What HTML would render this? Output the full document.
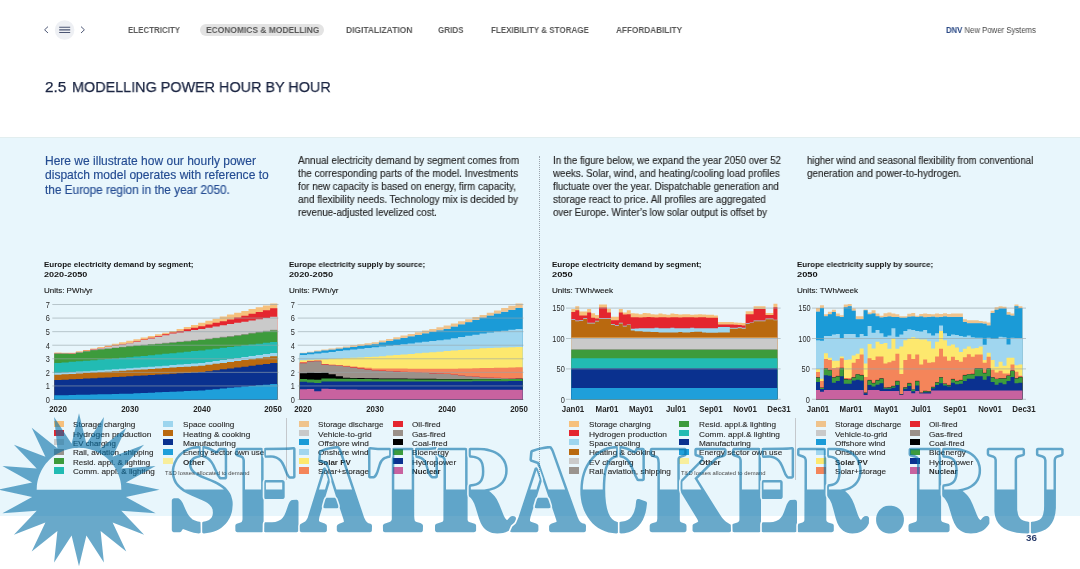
<!DOCTYPE html><html><head><meta charset="utf-8"><style>
*{margin:0;padding:0;box-sizing:border-box}
html,body{width:1080px;height:569px;overflow:hidden;background:#fff;font-family:"Liberation Sans", sans-serif}
.a{position:absolute;white-space:nowrap;line-height:1;transform-origin:0 0}
body{-webkit-font-smoothing:antialiased}
.txt{will-change:transform}
.sw{position:absolute;width:10px;height:6.3px}
</style></head><body>
<div class="a" style="left:0;top:137px;width:1080px;height:379px;background:#e8f6fc"></div>
<div class="a" style="left:0;top:137px;width:1080px;height:1px;background:#e2eeef"></div>
<svg class="a" style="left:0;top:0" width="100" height="60" viewBox="0 0 100 60"><path d="M48 26.6 L44.6 29.8 L48 33" fill="none" stroke="#505a78" stroke-width="1.0"/><circle cx="64.6" cy="30" r="9.8" fill="#eef0f4"/><path d="M59.2 27.3H70.2M59.2 29.9H70.2M59.2 32.5H70.2" stroke="#4b5573" stroke-width="1.1"/><path d="M81 26.6 L84.4 29.8 L81 33" fill="none" stroke="#505a78" stroke-width="1.0"/></svg>
<div class="a" style="left:200px;top:24.3px;width:124px;height:12px;border-radius:6px;background:#e3e3e3"></div>
<div id="n1" class="a txt" style="left:128.40px;top:25.58px;font-size:9.0px;font-weight:bold;color:#595959;transform:scaleX(0.8821);">ELECTRICITY</div>
<div id="n2" class="a txt" style="left:205.60px;top:25.58px;font-size:9.0px;font-weight:bold;color:#595959;transform:scaleX(0.9371);">ECONOMICS &amp; MODELLING</div>
<div id="n3" class="a txt" style="left:345.60px;top:25.58px;font-size:9.0px;font-weight:bold;color:#595959;transform:scaleX(0.9382);">DIGITALIZATION</div>
<div id="n4" class="a txt" style="left:438.00px;top:25.58px;font-size:9.0px;font-weight:bold;color:#595959;transform:scaleX(0.8965);">GRIDS</div>
<div id="n5" class="a txt" style="left:490.75px;top:25.58px;font-size:9.0px;font-weight:bold;color:#595959;transform:scaleX(0.8917);">FLEXIBILITY &amp; STORAGE</div>
<div id="n6" class="a txt" style="left:615.75px;top:25.58px;font-size:9.0px;font-weight:bold;color:#595959;transform:scaleX(0.9114);">AFFORDABILITY</div>
<div id="dnv" class="a txt" style="left:945.90px;top:25.79px;font-size:8.4px;font-weight:normal;color:#474747;transform:scaleX(0.9246);"><b style="color:#2b4a86">DNV</b> New Power Systems</div>
<div id="title0" class="a txt" style="left:44.70px;top:79.40px;font-size:15.0px;font-weight:normal;color:#1b2542;transform:scaleX(1.0248);-webkit-text-stroke:0.25px #1b2542;">2.5</div>
<div id="title" class="a txt" style="left:72.00px;top:79.40px;font-size:15.0px;font-weight:normal;color:#1b2542;transform:scaleX(0.9590);-webkit-text-stroke:0.25px #1b2542;">MODELLING POWER HOUR BY HOUR</div>
<div id="c1_0" class="a txt" style="left:44.90px;top:155.73px;font-size:11.9px;font-weight:normal;color:#244c92;transform:scaleX(1.0100);-webkit-text-stroke:0.15px #244c92;">Here we illustrate how our hourly power</div>
<div id="c1_1" class="a txt" style="left:44.90px;top:170.18px;font-size:11.9px;font-weight:normal;color:#244c92;transform:scaleX(1.0135);-webkit-text-stroke:0.15px #244c92;">dispatch model operates with reference to</div>
<div id="c1_2" class="a txt" style="left:44.90px;top:184.63px;font-size:11.9px;font-weight:normal;color:#244c92;transform:scaleX(0.9914);-webkit-text-stroke:0.15px #244c92;">the Europe region in the year 2050.</div>
<div id="c2_0" class="a txt" style="left:298.40px;top:155.21px;font-size:10.5px;font-weight:normal;color:#262626;transform:scaleX(0.9404);-webkit-text-stroke:0.15px #262626;">Annual electricity demand by segment comes from</div>
<div id="c2_1" class="a txt" style="left:298.40px;top:168.16px;font-size:10.5px;font-weight:normal;color:#262626;transform:scaleX(0.9427);-webkit-text-stroke:0.15px #262626;">the corresponding parts of the model. Investments</div>
<div id="c2_2" class="a txt" style="left:298.40px;top:181.11px;font-size:10.5px;font-weight:normal;color:#262626;transform:scaleX(0.9326);-webkit-text-stroke:0.15px #262626;">for new capacity is based on energy, firm capacity,</div>
<div id="c2_3" class="a txt" style="left:298.40px;top:194.06px;font-size:10.5px;font-weight:normal;color:#262626;transform:scaleX(0.9411);-webkit-text-stroke:0.15px #262626;">and flexibility needs. Technology mix is decided by</div>
<div id="c2_4" class="a txt" style="left:298.40px;top:207.01px;font-size:10.5px;font-weight:normal;color:#262626;transform:scaleX(0.9264);-webkit-text-stroke:0.15px #262626;">revenue-adjusted levelized cost.</div>
<div id="c3_0" class="a txt" style="left:552.80px;top:155.21px;font-size:10.5px;font-weight:normal;color:#262626;transform:scaleX(0.9233);-webkit-text-stroke:0.15px #262626;">In the figure below, we expand the year 2050 over 52</div>
<div id="c3_1" class="a txt" style="left:552.80px;top:168.16px;font-size:10.5px;font-weight:normal;color:#262626;transform:scaleX(0.9313);-webkit-text-stroke:0.15px #262626;">weeks. Solar, wind, and heating/cooling load profiles</div>
<div id="c3_2" class="a txt" style="left:552.80px;top:181.11px;font-size:10.5px;font-weight:normal;color:#262626;transform:scaleX(0.9298);-webkit-text-stroke:0.15px #262626;">fluctuate over the year. Dispatchable generation and</div>
<div id="c3_3" class="a txt" style="left:552.80px;top:194.06px;font-size:10.5px;font-weight:normal;color:#262626;transform:scaleX(0.9400);-webkit-text-stroke:0.15px #262626;">storage react to price. All profiles are aggregated</div>
<div id="c3_4" class="a txt" style="left:552.80px;top:207.01px;font-size:10.5px;font-weight:normal;color:#262626;transform:scaleX(0.9282);-webkit-text-stroke:0.15px #262626;">over Europe. Winter’s low solar output is offset by</div>
<div id="c4_0" class="a txt" style="left:806.70px;top:155.21px;font-size:10.5px;font-weight:normal;color:#262626;transform:scaleX(0.9139);-webkit-text-stroke:0.15px #262626;">higher wind and seasonal flexibility from conventional</div>
<div id="c4_1" class="a txt" style="left:806.70px;top:168.16px;font-size:10.5px;font-weight:normal;color:#262626;transform:scaleX(0.9412);-webkit-text-stroke:0.15px #262626;">generation and power-to-hydrogen.</div>
<div class="a" style="left:539px;top:156px;height:320px;border-left:1px dotted #9aa4ad"></div>
<div class="a" style="left:286px;top:418px;width:1px;height:62px;background:#c4c8cc"></div>
<div class="a" style="left:794.5px;top:418px;width:1px;height:62px;background:#c4c8cc"></div>
<div id="ct0a" class="a txt" style="left:44.40px;top:261.23px;font-size:8.0px;font-weight:bold;color:#141414;transform:scaleX(1.0006);">Europe electricity demand by segment;</div>
<div id="ct0b" class="a txt" style="left:44.40px;top:270.83px;font-size:8.0px;font-weight:bold;color:#141414;transform:scaleX(1.1325);">2020-2050</div>
<div id="un0" class="a txt" style="left:44.40px;top:286.70px;font-size:7.8px;font-weight:normal;color:#161616;transform:scaleX(1.0231);-webkit-text-stroke:0.12px #161616;">Units: PWh/yr</div>
<div id="ct1a" class="a txt" style="left:288.70px;top:261.23px;font-size:8.0px;font-weight:bold;color:#141414;transform:scaleX(0.9878);">Europe electricity supply by source;</div>
<div id="ct1b" class="a txt" style="left:288.70px;top:270.83px;font-size:8.0px;font-weight:bold;color:#141414;transform:scaleX(1.1510);">2020-2050</div>
<div id="un1" class="a txt" style="left:288.70px;top:286.70px;font-size:7.8px;font-weight:normal;color:#161616;transform:scaleX(1.0380);-webkit-text-stroke:0.12px #161616;">Units: PWh/yr</div>
<div id="ct2a" class="a txt" style="left:552.00px;top:261.23px;font-size:8.0px;font-weight:bold;color:#141414;transform:scaleX(1.0006);">Europe electricity demand by segment;</div>
<div id="ct2b" class="a txt" style="left:552.00px;top:270.83px;font-size:8.0px;font-weight:bold;color:#141414;transform:scaleX(1.1603);">2050</div>
<div id="un2" class="a txt" style="left:552.00px;top:286.70px;font-size:7.8px;font-weight:normal;color:#161616;transform:scaleX(1.0406);-webkit-text-stroke:0.12px #161616;">Units: TWh/week</div>
<div id="ct3a" class="a txt" style="left:796.60px;top:261.23px;font-size:8.0px;font-weight:bold;color:#141414;transform:scaleX(0.9878);">Europe electricity supply by source;</div>
<div id="ct3b" class="a txt" style="left:796.60px;top:270.83px;font-size:8.0px;font-weight:bold;color:#141414;transform:scaleX(1.1603);">2050</div>
<div id="un3" class="a txt" style="left:796.60px;top:286.70px;font-size:7.8px;font-weight:normal;color:#161616;transform:scaleX(1.0406);-webkit-text-stroke:0.12px #161616;">Units: TWh/week</div>
<svg class="a" style="left:0;top:0" width="1080" height="569" viewBox="0 0 1080 569"><rect x="52.3" y="399.00" width="226.2" height="1" fill="#96a5aa" fill-opacity="0.6"/><path d="M54.30 399.50L54.30 352.55L61.49 352.55L61.49 352.68L68.69 352.68L68.69 352.82L75.88 352.82L75.88 351.37L83.07 351.37L83.07 349.92L90.27 349.92L90.27 348.48L97.46 348.48L97.46 346.93L104.65 346.93L104.65 345.38L111.85 345.38L111.85 343.84L119.04 343.84L119.04 342.29L126.24 342.29L126.24 340.74L133.43 340.74L133.43 339.14L140.62 339.14L140.62 337.53L147.82 337.53L147.82 335.92L155.01 335.92L155.01 334.32L162.20 334.32L162.20 332.71L169.40 332.71L169.40 331.11L176.59 331.11L176.59 329.04L183.78 329.04L183.78 326.97L190.98 326.97L190.98 324.90L198.17 324.90L198.17 322.83L205.36 322.83L205.36 320.76L212.56 320.76L212.56 318.69L219.75 318.69L219.75 316.62L226.95 316.62L226.95 314.55L234.14 314.55L234.14 312.72L241.33 312.72L241.33 310.89L248.53 310.89L248.53 309.06L255.72 309.06L255.72 307.22L262.91 307.22L262.91 305.39L270.11 305.39L270.11 303.56L277.30 303.56L277.30 399.50Z" fill="#f6c07c"/><path d="M54.30 399.50L54.30 353.36L61.49 353.36L61.49 353.43L68.69 353.43L68.69 353.50L75.88 353.50L75.88 352.10L83.07 352.10L83.07 350.69L90.27 350.69L90.27 349.29L97.46 349.29L97.46 348.02L104.65 348.02L104.65 346.74L111.85 346.74L111.85 345.46L119.04 345.46L119.04 344.19L126.24 344.19L126.24 342.91L133.43 342.91L133.43 341.17L140.62 341.17L140.62 339.43L147.82 339.43L147.82 337.69L155.01 337.69L155.01 335.95L162.20 335.95L162.20 334.21L169.40 334.21L169.40 332.46L176.59 332.46L176.59 330.90L183.78 330.90L183.78 329.34L190.98 329.34L190.98 327.78L198.17 327.78L198.17 326.22L205.36 326.22L205.36 324.53L212.56 324.53L212.56 322.83L219.75 322.83L219.75 321.13L226.95 321.13L226.95 319.44L234.14 319.44L234.14 317.58L241.33 317.58L241.33 315.73L248.53 315.73L248.53 313.87L255.72 313.87L255.72 312.02L262.91 312.02L262.91 310.16L270.11 310.16L270.11 308.31L277.30 308.31L277.30 399.50Z" fill="#e4262f"/><path d="M54.30 399.50L54.30 353.50L61.49 353.50L61.49 353.57L68.69 353.57L68.69 353.63L75.88 353.63L75.88 352.28L83.07 352.28L83.07 350.92L90.27 350.92L90.27 349.56L97.46 349.56L97.46 348.31L104.65 348.31L104.65 347.07L111.85 347.07L111.85 345.82L119.04 345.82L119.04 344.57L126.24 344.57L126.24 343.32L133.43 343.32L133.43 341.69L140.62 341.69L140.62 340.06L147.82 340.06L147.82 338.44L155.01 338.44L155.01 336.81L162.20 336.81L162.20 335.18L169.40 335.18L169.40 333.55L176.59 333.55L176.59 332.40L183.78 332.40L183.78 331.24L190.98 331.24L190.98 330.09L198.17 330.09L198.17 328.94L205.36 328.94L205.36 327.71L212.56 327.71L212.56 326.49L219.75 326.49L219.75 325.27L226.95 325.27L226.95 324.05L234.14 324.05L234.14 322.85L241.33 322.85L241.33 321.65L248.53 321.65L248.53 320.45L255.72 320.45L255.72 319.26L262.91 319.26L262.91 318.06L270.11 318.06L270.11 316.86L277.30 316.86L277.30 399.50Z" fill="#cacaca"/><path d="M54.30 399.50L54.30 353.63L61.49 353.63L61.49 353.70L68.69 353.70L68.69 353.77L75.88 353.77L75.88 352.50L83.07 352.50L83.07 351.24L90.27 351.24L90.27 349.97L97.46 349.97L97.46 349.18L104.65 349.18L104.65 348.40L111.85 348.40L111.85 347.61L119.04 347.61L119.04 346.82L126.24 346.82L126.24 346.03L133.43 346.03L133.43 345.40L140.62 345.40L140.62 344.77L147.82 344.77L147.82 344.13L155.01 344.13L155.01 343.50L162.20 343.50L162.20 342.87L169.40 342.87L169.40 342.23L176.59 342.23L176.59 341.52L183.78 341.52L183.78 340.81L190.98 340.81L190.98 340.10L198.17 340.10L198.17 339.38L205.36 339.38L205.36 338.54L212.56 338.54L212.56 337.69L219.75 337.69L219.75 336.84L226.95 336.84L226.95 335.99L234.14 335.99L234.14 334.95L241.33 334.95L241.33 333.91L248.53 333.91L248.53 332.87L255.72 332.87L255.72 331.83L262.91 331.83L262.91 330.79L270.11 330.79L270.11 329.75L277.30 329.75L277.30 399.50Z" fill="#9a948e"/><path d="M54.30 399.50L54.30 353.77L61.49 353.77L61.49 353.84L68.69 353.84L68.69 353.90L75.88 353.90L75.88 352.68L83.07 352.68L83.07 351.46L90.27 351.46L90.27 350.24L97.46 350.24L97.46 349.48L104.65 349.48L104.65 348.72L111.85 348.72L111.85 347.96L119.04 347.96L119.04 347.20L126.24 347.20L126.24 346.44L133.43 346.44L133.43 345.83L140.62 345.83L140.62 345.22L147.82 345.22L147.82 344.61L155.01 344.61L155.01 344.00L162.20 344.00L162.20 343.39L169.40 343.39L169.40 342.78L176.59 342.78L176.59 342.10L183.78 342.10L183.78 341.42L190.98 341.42L190.98 340.74L198.17 340.74L198.17 340.06L205.36 340.06L205.36 339.22L212.56 339.22L212.56 338.37L219.75 338.37L219.75 337.52L226.95 337.52L226.95 336.67L234.14 336.67L234.14 335.65L241.33 335.65L241.33 334.64L248.53 334.64L248.53 333.62L255.72 333.62L255.72 332.60L262.91 332.60L262.91 331.58L270.11 331.58L270.11 330.56L277.30 330.56L277.30 399.50Z" fill="#3d9b3c"/><path d="M54.30 399.50L54.30 363.00L61.49 363.00L61.49 362.43L68.69 362.43L68.69 361.86L75.88 361.86L75.88 361.29L83.07 361.29L83.07 360.72L90.27 360.72L90.27 360.15L97.46 360.15L97.46 359.58L104.65 359.58L104.65 359.01L111.85 359.01L111.85 358.44L119.04 358.44L119.04 357.87L126.24 357.87L126.24 357.30L133.43 357.30L133.43 356.61L140.62 356.61L140.62 355.91L147.82 355.91L147.82 355.22L155.01 355.22L155.01 354.53L162.20 354.53L162.20 353.84L169.40 353.84L169.40 353.14L176.59 353.14L176.59 352.45L183.78 352.45L183.78 351.76L190.98 351.76L190.98 351.07L198.17 351.07L198.17 350.38L205.36 350.38L205.36 349.54L212.56 349.54L212.56 348.69L219.75 348.69L219.75 347.85L226.95 347.85L226.95 347.01L234.14 347.01L234.14 346.17L241.33 346.17L241.33 345.33L248.53 345.33L248.53 344.49L255.72 344.49L255.72 343.65L262.91 343.65L262.91 342.80L270.11 342.80L270.11 341.96L277.30 341.96L277.30 399.50Z" fill="#22bbb3"/><path d="M54.30 399.50L54.30 373.04L61.49 373.04L61.49 372.56L68.69 372.56L68.69 372.09L75.88 372.09L75.88 371.61L83.07 371.61L83.07 371.14L90.27 371.14L90.27 370.66L97.46 370.66L97.46 370.19L104.65 370.19L104.65 369.71L111.85 369.71L111.85 369.24L119.04 369.24L119.04 368.76L126.24 368.76L126.24 368.29L133.43 368.29L133.43 367.76L140.62 367.76L140.62 367.23L147.82 367.23L147.82 366.70L155.01 366.70L155.01 366.17L162.20 366.17L162.20 365.64L169.40 365.64L169.40 365.11L176.59 365.11L176.59 364.58L183.78 364.58L183.78 364.06L190.98 364.06L190.98 363.53L198.17 363.53L198.17 363.00L205.36 363.00L205.36 362.01L212.56 362.01L212.56 361.02L219.75 361.02L219.75 360.02L226.95 360.02L226.95 359.03L234.14 359.03L234.14 358.04L241.33 358.04L241.33 357.05L248.53 357.05L248.53 356.06L255.72 356.06L255.72 355.07L262.91 355.07L262.91 354.08L270.11 354.08L270.11 353.09L277.30 353.09L277.30 399.50Z" fill="#9dd5ee"/><path d="M54.30 399.50L54.30 374.80L61.49 374.80L61.49 374.35L68.69 374.35L68.69 373.91L75.88 373.91L75.88 373.46L83.07 373.46L83.07 373.01L90.27 373.01L90.27 372.56L97.46 372.56L97.46 372.12L104.65 372.12L104.65 371.67L111.85 371.67L111.85 371.22L119.04 371.22L119.04 370.77L126.24 370.77L126.24 370.32L133.43 370.32L133.43 369.86L140.62 369.86L140.62 369.40L147.82 369.40L147.82 368.94L155.01 368.94L155.01 368.48L162.20 368.48L162.20 368.02L169.40 368.02L169.40 367.56L176.59 367.56L176.59 367.09L183.78 367.09L183.78 366.63L190.98 366.63L190.98 366.17L198.17 366.17L198.17 365.71L205.36 365.71L205.36 364.77L212.56 364.77L212.56 363.84L219.75 363.84L219.75 362.90L226.95 362.90L226.95 361.97L234.14 361.97L234.14 361.03L241.33 361.03L241.33 360.09L248.53 360.09L248.53 359.16L255.72 359.16L255.72 358.22L262.91 358.22L262.91 357.28L270.11 357.28L270.11 356.35L277.30 356.35L277.30 399.50Z" fill="#b9690f"/><path d="M54.30 399.50L54.30 380.09L61.49 380.09L61.49 379.71L68.69 379.71L68.69 379.33L75.88 379.33L75.88 378.96L83.07 378.96L83.07 378.58L90.27 378.58L90.27 378.20L97.46 378.20L97.46 377.82L104.65 377.82L104.65 377.44L111.85 377.44L111.85 377.06L119.04 377.06L119.04 376.68L126.24 376.68L126.24 376.30L133.43 376.30L133.43 375.87L140.62 375.87L140.62 375.45L147.82 375.45L147.82 375.03L155.01 375.03L155.01 374.61L162.20 374.61L162.20 374.19L169.40 374.19L169.40 373.77L176.59 373.77L176.59 373.35L183.78 373.35L183.78 372.93L190.98 372.93L190.98 372.51L198.17 372.51L198.17 372.09L205.36 372.09L205.36 371.18L212.56 371.18L212.56 370.27L219.75 370.27L219.75 369.36L226.95 369.36L226.95 368.45L234.14 368.45L234.14 367.54L241.33 367.54L241.33 366.63L248.53 366.63L248.53 365.72L255.72 365.72L255.72 364.82L262.91 364.82L262.91 363.91L270.11 363.91L270.11 363.00L277.30 363.00L277.30 399.50Z" fill="#0a318f"/><path d="M54.30 399.50L54.30 395.29L61.49 395.29L61.49 395.13L68.69 395.13L68.69 394.97L75.88 394.97L75.88 394.80L83.07 394.80L83.07 394.64L90.27 394.64L90.27 394.48L97.46 394.48L97.46 394.32L104.65 394.32L104.65 394.15L111.85 394.15L111.85 393.99L119.04 393.99L119.04 393.83L126.24 393.83L126.24 393.66L133.43 393.66L133.43 393.34L140.62 393.34L140.62 393.01L147.82 393.01L147.82 392.69L155.01 392.69L155.01 392.36L162.20 392.36L162.20 392.04L169.40 392.04L169.40 391.71L176.59 391.71L176.59 391.39L183.78 391.39L183.78 391.06L190.98 391.06L190.98 390.73L198.17 390.73L198.17 390.41L205.36 390.41L205.36 389.77L212.56 389.77L212.56 389.13L219.75 389.13L219.75 388.49L226.95 388.49L226.95 387.86L234.14 387.86L234.14 387.22L241.33 387.22L241.33 386.58L248.53 386.58L248.53 385.94L255.72 385.94L255.72 385.31L262.91 385.31L262.91 384.67L270.11 384.67L270.11 384.03L277.30 384.03L277.30 399.50Z" fill="#1f9fda"/><rect x="52.3" y="385.43" width="226.2" height="1" fill="#96a5aa" fill-opacity="0.6"/><rect x="52.3" y="371.86" width="226.2" height="1" fill="#96a5aa" fill-opacity="0.6"/><rect x="52.3" y="358.29" width="226.2" height="1" fill="#96a5aa" fill-opacity="0.6"/><rect x="52.3" y="344.72" width="226.2" height="1" fill="#96a5aa" fill-opacity="0.6"/><rect x="52.3" y="331.15" width="226.2" height="1" fill="#96a5aa" fill-opacity="0.6"/><rect x="52.3" y="317.58" width="226.2" height="1" fill="#96a5aa" fill-opacity="0.6"/><rect x="52.3" y="304.01" width="226.2" height="1" fill="#96a5aa" fill-opacity="0.6"/><rect x="297.7" y="399.00" width="225.8" height="1" fill="#96a5aa" fill-opacity="0.6"/><path d="M299.80 399.50L299.80 352.68L306.99 352.68L306.99 351.64L314.18 351.64L314.18 350.59L321.37 350.59L321.37 349.55L328.56 349.55L328.56 348.50L335.75 348.50L335.75 347.46L342.94 347.46L342.94 346.41L350.13 346.41L350.13 345.37L357.32 345.37L357.32 344.32L364.51 344.32L364.51 343.28L371.70 343.28L371.70 342.23L378.89 342.23L378.89 340.57L386.08 340.57L386.08 338.90L393.27 338.90L393.27 337.23L400.46 337.23L400.46 335.56L407.65 335.56L407.65 333.89L414.85 333.89L414.85 332.22L422.04 332.22L422.04 330.55L429.23 330.55L429.23 328.88L436.42 328.88L436.42 327.21L443.61 327.21L443.61 325.54L450.80 325.54L450.80 323.43L457.99 323.43L457.99 321.31L465.18 321.31L465.18 319.19L472.37 319.19L472.37 317.08L479.56 317.08L479.56 314.96L486.75 314.96L486.75 312.68L493.94 312.68L493.94 310.40L501.13 310.40L501.13 308.12L508.32 308.12L508.32 305.84L515.51 305.84L515.51 303.56L522.70 303.56L522.70 399.50Z" fill="#efc38c"/><path d="M299.80 399.50L299.80 353.09L306.99 353.09L306.99 352.17L314.18 352.17L314.18 351.25L321.37 351.25L321.37 350.32L328.56 350.32L328.56 349.40L335.75 349.40L335.75 348.48L342.94 348.48L342.94 347.55L350.13 347.55L350.13 346.63L357.32 346.63L357.32 345.71L364.51 345.71L364.51 344.79L371.70 344.79L371.70 343.86L378.89 343.86L378.89 342.34L386.08 342.34L386.08 340.82L393.27 340.82L393.27 339.30L400.46 339.30L400.46 337.78L407.65 337.78L407.65 336.26L414.85 336.26L414.85 334.74L422.04 334.74L422.04 333.22L429.23 333.22L429.23 331.70L436.42 331.70L436.42 330.18L443.61 330.18L443.61 328.66L450.80 328.66L450.80 326.41L457.99 326.41L457.99 324.16L465.18 324.16L465.18 321.91L472.37 321.91L472.37 319.65L479.56 319.65L479.56 317.40L486.75 317.40L486.75 315.47L493.94 315.47L493.94 313.55L501.13 313.55L501.13 311.62L508.32 311.62L508.32 309.69L515.51 309.69L515.51 307.77L522.70 307.77L522.70 399.50Z" fill="#c9c9c9"/><path d="M299.80 399.50L299.80 353.36L306.99 353.36L306.99 352.44L314.18 352.44L314.18 351.52L321.37 351.52L321.37 350.59L328.56 350.59L328.56 349.67L335.75 349.67L335.75 348.75L342.94 348.75L342.94 347.83L350.13 347.83L350.13 346.90L357.32 346.90L357.32 345.98L364.51 345.98L364.51 345.06L371.70 345.06L371.70 344.13L378.89 344.13L378.89 342.61L386.08 342.61L386.08 341.09L393.27 341.09L393.27 339.57L400.46 339.57L400.46 338.06L407.65 338.06L407.65 336.54L414.85 336.54L414.85 335.02L422.04 335.02L422.04 333.50L429.23 333.50L429.23 331.98L436.42 331.98L436.42 330.46L443.61 330.46L443.61 328.94L450.80 328.94L450.80 326.68L457.99 326.68L457.99 324.43L465.18 324.43L465.18 322.18L472.37 322.18L472.37 319.93L479.56 319.93L479.56 317.67L486.75 317.67L486.75 315.75L493.94 315.75L493.94 313.82L501.13 313.82L501.13 311.89L508.32 311.89L508.32 309.97L515.51 309.97L515.51 308.04L522.70 308.04L522.70 399.50Z" fill="#1b9bd7"/><path d="M299.80 399.50L299.80 354.99L306.99 354.99L306.99 354.22L314.18 354.22L314.18 353.44L321.37 353.44L321.37 352.67L328.56 352.67L328.56 351.90L335.75 351.90L335.75 351.12L342.94 351.12L342.94 350.35L350.13 350.35L350.13 349.58L357.32 349.58L357.32 348.80L364.51 348.80L364.51 348.03L371.70 348.03L371.70 347.26L378.89 347.26L378.89 346.48L386.08 346.48L386.08 345.71L393.27 345.71L393.27 344.94L400.46 344.94L400.46 344.16L407.65 344.16L407.65 343.39L414.85 343.39L414.85 342.61L422.04 342.61L422.04 341.84L429.23 341.84L429.23 341.07L436.42 341.07L436.42 340.29L443.61 340.29L443.61 339.52L450.80 339.52L450.80 338.30L457.99 338.30L457.99 337.08L465.18 337.08L465.18 335.86L472.37 335.86L472.37 334.64L479.56 334.64L479.56 333.41L486.75 333.41L486.75 332.52L493.94 332.52L493.94 331.62L501.13 331.62L501.13 330.73L508.32 330.73L508.32 329.83L515.51 329.83L515.51 328.94L522.70 328.94L522.70 399.50Z" fill="#a0d6ef"/><path d="M299.80 399.50L299.80 360.15L306.99 360.15L306.99 359.81L314.18 359.81L314.18 359.47L321.37 359.47L321.37 359.13L328.56 359.13L328.56 358.79L335.75 358.79L335.75 358.45L342.94 358.45L342.94 358.11L350.13 358.11L350.13 357.77L357.32 357.77L357.32 357.43L364.51 357.43L364.51 357.09L371.70 357.09L371.70 356.75L378.89 356.75L378.89 356.18L386.08 356.18L386.08 355.61L393.27 355.61L393.27 355.04L400.46 355.04L400.46 354.47L407.65 354.47L407.65 353.90L414.85 353.90L414.85 353.33L422.04 353.33L422.04 352.76L429.23 352.76L429.23 352.19L436.42 352.19L436.42 351.63L443.61 351.63L443.61 351.06L450.80 351.06L450.80 350.51L457.99 350.51L457.99 349.97L465.18 349.97L465.18 349.43L472.37 349.43L472.37 348.88L479.56 348.88L479.56 348.34L486.75 348.34L486.75 348.10L493.94 348.10L493.94 347.85L501.13 347.85L501.13 347.61L508.32 347.61L508.32 347.36L515.51 347.36L515.51 347.12L522.70 347.12L522.70 399.50Z" fill="#fde86e"/><path d="M299.80 399.50L299.80 361.91L306.99 361.91L306.99 360.69L314.18 360.69L314.18 360.55L321.37 360.55L321.37 363.95L328.56 363.95L328.56 364.59L335.75 364.59L335.75 365.23L342.94 365.23L342.94 365.87L350.13 365.87L350.13 366.51L357.32 366.51L357.32 367.15L364.51 367.15L364.51 367.78L371.70 367.78L371.70 368.42L378.89 368.42L378.89 368.47L386.08 368.47L386.08 368.51L393.27 368.51L393.27 368.55L400.46 368.55L400.46 368.59L407.65 368.59L407.65 368.63L414.85 368.63L414.85 368.67L422.04 368.67L422.04 368.71L429.23 368.71L429.23 368.75L436.42 368.75L436.42 368.79L443.61 368.79L443.61 368.83L450.80 368.83L450.80 368.68L457.99 368.68L457.99 368.53L465.18 368.53L465.18 368.38L472.37 368.38L472.37 368.23L479.56 368.23L479.56 368.09L486.75 368.09L486.75 367.94L493.94 367.94L493.94 367.79L501.13 367.79L501.13 367.64L508.32 367.64L508.32 367.49L515.51 367.49L515.51 367.34L522.70 367.34L522.70 399.50Z" fill="#f4855a"/><path d="M299.80 399.50L299.80 362.73L306.99 362.73L306.99 361.10L314.18 361.10L314.18 360.83L321.37 360.83L321.37 364.35L328.56 364.35L328.56 364.90L335.75 364.90L335.75 365.44L342.94 365.44L342.94 366.39L350.13 366.39L350.13 367.34L357.32 367.34L357.32 368.29L364.51 368.29L364.51 369.24L371.70 369.24L371.70 370.19L378.89 370.19L378.89 370.56L386.08 370.56L386.08 370.92L393.27 370.92L393.27 371.29L400.46 371.29L400.46 371.65L407.65 371.65L407.65 372.02L414.85 372.02L414.85 372.39L422.04 372.39L422.04 372.75L429.23 372.75L429.23 373.12L436.42 373.12L436.42 373.49L443.61 373.49L443.61 373.85L450.80 373.85L450.80 374.53L457.99 374.53L457.99 375.21L465.18 375.21L465.18 375.89L472.37 375.89L472.37 376.57L479.56 376.57L479.56 377.25L486.75 377.25L486.75 377.46L493.94 377.46L493.94 377.68L501.13 377.68L501.13 377.90L508.32 377.90L508.32 378.11L515.51 378.11L515.51 378.33L522.70 378.33L522.70 399.50Z" fill="#e4262f"/><path d="M299.80 399.50L299.80 363.13L306.99 363.13L306.99 361.50L314.18 361.50L314.18 361.23L321.37 361.23L321.37 364.76L328.56 364.76L328.56 365.30L335.75 365.30L335.75 365.85L342.94 365.85L342.94 366.80L350.13 366.80L350.13 367.75L357.32 367.75L357.32 368.70L364.51 368.70L364.51 369.65L371.70 369.65L371.70 370.60L378.89 370.60L378.89 370.95L386.08 370.95L386.08 371.30L393.27 371.30L393.27 371.65L400.46 371.65L400.46 372.01L407.65 372.01L407.65 372.36L414.85 372.36L414.85 372.71L422.04 372.71L422.04 373.07L429.23 373.07L429.23 373.42L436.42 373.42L436.42 373.77L443.61 373.77L443.61 374.12L450.80 374.12L450.80 374.80L457.99 374.80L457.99 375.48L465.18 375.48L465.18 376.16L472.37 376.16L472.37 376.84L479.56 376.84L479.56 377.52L486.75 377.52L486.75 377.73L493.94 377.73L493.94 377.95L501.13 377.95L501.13 378.17L508.32 378.17L508.32 378.39L515.51 378.39L515.51 378.60L522.70 378.60L522.70 399.50Z" fill="#9b918a"/><path d="M299.80 399.50L299.80 373.31L306.99 373.31L306.99 372.77L314.18 372.77L314.18 373.04L321.37 373.04L321.37 372.77L328.56 372.77L328.56 374.26L335.75 374.26L335.75 376.16L342.94 376.16L342.94 377.79L350.13 377.79L350.13 377.92L357.32 377.92L357.32 378.06L364.51 378.06L364.51 378.20L371.70 378.20L371.70 378.33L378.89 378.33L378.89 378.40L386.08 378.40L386.08 378.47L393.27 378.47L393.27 378.53L400.46 378.53L400.46 378.60L407.65 378.60L407.65 378.67L414.85 378.67L414.85 378.74L422.04 378.74L422.04 378.81L429.23 378.81L429.23 378.87L436.42 378.87L436.42 378.94L443.61 378.94L443.61 379.01L450.80 379.01L450.80 379.00L457.99 379.00L457.99 378.98L465.18 378.98L465.18 378.97L472.37 378.97L472.37 378.96L479.56 378.96L479.56 378.94L486.75 378.94L486.75 378.93L493.94 378.93L493.94 378.91L501.13 378.91L501.13 378.90L508.32 378.90L508.32 378.89L515.51 378.89L515.51 378.87L522.70 378.87L522.70 399.50Z" fill="#000000"/><path d="M299.80 399.50L299.80 379.01L306.99 379.01L306.99 379.42L314.18 379.42L314.18 379.82L321.37 379.82L321.37 378.47L328.56 378.47L328.56 378.56L335.75 378.56L335.75 378.66L342.94 378.66L342.94 378.76L350.13 378.76L350.13 378.85L357.32 378.85L357.32 378.95L364.51 378.95L364.51 379.05L371.70 379.05L371.70 379.14L378.89 379.14L378.89 379.19L386.08 379.19L386.08 379.23L393.27 379.23L393.27 379.27L400.46 379.27L400.46 379.31L407.65 379.31L407.65 379.35L414.85 379.35L414.85 379.39L422.04 379.39L422.04 379.43L429.23 379.43L429.23 379.47L436.42 379.47L436.42 379.51L443.61 379.51L443.61 379.55L450.80 379.55L450.80 379.50L457.99 379.50L457.99 379.44L465.18 379.44L465.18 379.39L472.37 379.39L472.37 379.33L479.56 379.33L479.56 379.28L486.75 379.28L486.75 379.23L493.94 379.23L493.94 379.17L501.13 379.17L501.13 379.12L508.32 379.12L508.32 379.06L515.51 379.06L515.51 379.01L522.70 379.01L522.70 399.50Z" fill="#3d9b3c"/><path d="M299.80 399.50L299.80 381.86L306.99 381.86L306.99 382.40L314.18 382.40L314.18 382.94L321.37 382.94L321.37 381.45L328.56 381.45L328.56 381.47L335.75 381.47L335.75 381.49L342.94 381.49L342.94 381.51L350.13 381.51L350.13 381.53L357.32 381.53L357.32 381.55L364.51 381.55L364.51 381.57L371.70 381.57L371.70 381.59L378.89 381.59L378.89 381.59L386.08 381.59L386.08 381.59L393.27 381.59L393.27 381.59L400.46 381.59L400.46 381.59L407.65 381.59L407.65 381.59L414.85 381.59L414.85 381.59L422.04 381.59L422.04 381.59L429.23 381.59L429.23 381.59L436.42 381.59L436.42 381.59L443.61 381.59L443.61 381.59L450.80 381.59L450.80 381.53L457.99 381.53L457.99 381.48L465.18 381.48L465.18 381.42L472.37 381.42L472.37 381.37L479.56 381.37L479.56 381.32L486.75 381.32L486.75 381.26L493.94 381.26L493.94 381.21L501.13 381.21L501.13 381.15L508.32 381.15L508.32 381.10L515.51 381.10L515.51 381.04L522.70 381.04L522.70 399.50Z" fill="#0b3190"/><path d="M299.80 399.50L299.80 389.19L306.99 389.19L306.99 388.92L314.18 388.92L314.18 391.36L321.37 391.36L321.37 388.64L328.56 388.64L328.56 389.05L335.75 389.05L335.75 389.46L342.94 389.46L342.94 389.54L350.13 389.54L350.13 389.62L357.32 389.62L357.32 389.70L364.51 389.70L364.51 389.78L371.70 389.78L371.70 389.87L378.89 389.87L378.89 389.87L386.08 389.87L386.08 389.87L393.27 389.87L393.27 389.87L400.46 389.87L400.46 389.87L407.65 389.87L407.65 389.87L414.85 389.87L414.85 389.87L422.04 389.87L422.04 389.87L429.23 389.87L429.23 389.87L436.42 389.87L436.42 389.87L443.61 389.87L443.61 389.87L450.80 389.87L450.80 389.87L457.99 389.87L457.99 389.87L465.18 389.87L465.18 389.87L472.37 389.87L472.37 389.87L479.56 389.87L479.56 389.87L486.75 389.87L486.75 389.87L493.94 389.87L493.94 389.87L501.13 389.87L501.13 389.87L508.32 389.87L508.32 389.87L515.51 389.87L515.51 389.87L522.70 389.87L522.70 399.50Z" fill="#c8629f"/><rect x="297.7" y="385.43" width="225.8" height="1" fill="#96a5aa" fill-opacity="0.6"/><rect x="297.7" y="371.86" width="225.8" height="1" fill="#96a5aa" fill-opacity="0.6"/><rect x="297.7" y="358.29" width="225.8" height="1" fill="#96a5aa" fill-opacity="0.6"/><rect x="297.7" y="344.72" width="225.8" height="1" fill="#96a5aa" fill-opacity="0.6"/><rect x="297.7" y="331.15" width="225.8" height="1" fill="#96a5aa" fill-opacity="0.6"/><rect x="297.7" y="317.58" width="225.8" height="1" fill="#96a5aa" fill-opacity="0.6"/><rect x="297.7" y="304.01" width="225.8" height="1" fill="#96a5aa" fill-opacity="0.6"/><rect x="566.0" y="398.80" width="214.6" height="1" fill="#96a5aa" fill-opacity="0.6"/><path d="M571.30 399.30L571.30 308.89L575.26 308.89L575.26 306.28L579.23 306.28L579.23 311.50L583.19 311.50L583.19 311.50L587.15 311.50L587.15 308.89L591.12 308.89L591.12 313.33L595.08 313.33L595.08 315.09L599.04 315.09L599.04 304.51L603.01 304.51L603.01 304.51L606.97 304.51L606.97 308.71L610.93 308.71L610.93 316.86L614.90 316.86L614.90 316.86L618.86 316.86L618.86 308.89L622.82 308.89L622.82 312.48L626.79 312.48L626.79 310.23L630.75 310.23L630.75 313.33L634.72 313.33L634.72 313.57L638.68 313.57L638.68 314.18L642.64 314.18L642.64 312.96L646.61 312.96L646.61 313.27L650.57 313.27L650.57 314.18L654.53 314.18L654.53 314.48L658.50 314.48L658.50 313.57L662.46 313.57L662.46 314.18L666.42 314.18L666.42 314.79L670.39 314.79L670.39 313.57L674.35 313.57L674.35 313.88L678.31 313.88L678.31 314.48L682.28 314.48L682.28 314.18L686.24 314.18L686.24 314.18L690.20 314.18L690.20 314.79L694.17 314.79L694.17 314.48L698.13 314.48L698.13 314.18L702.09 314.18L702.09 314.48L706.06 314.48L706.06 314.79L710.02 314.79L710.02 314.79L713.98 314.79L713.98 315.40L717.95 315.40L717.95 322.08L721.91 322.08L721.91 322.08L725.88 322.08L725.88 322.08L729.84 322.08L729.84 322.08L733.80 322.08L733.80 322.39L737.77 322.39L737.77 322.69L741.73 322.69L741.73 323.00L745.69 323.00L745.69 311.14L749.66 311.14L749.66 311.14L753.62 311.14L753.62 306.28L757.58 306.28L757.58 306.28L761.55 306.28L761.55 306.28L765.51 306.28L765.51 312.96L769.47 312.96L769.47 312.96L773.44 312.96L773.44 303.84L777.40 303.84L777.40 399.30Z" fill="#f6c07c"/><path d="M571.30 399.30L571.30 311.99L575.26 311.99L575.26 310.23L579.23 310.23L579.23 315.52L583.19 315.52L583.19 315.52L587.15 315.52L587.15 312.42L591.12 312.42L591.12 317.71L595.08 317.71L595.08 318.62L599.04 318.62L599.04 307.61L603.01 307.61L603.01 307.61L606.97 307.61L606.97 312.42L610.93 312.42L610.93 320.32L614.90 320.32L614.90 320.32L618.86 320.32L618.86 312.42L622.82 312.42L622.82 314.61L626.79 314.61L626.79 314.18L630.75 314.18L630.75 317.28L634.72 317.28L634.72 317.22L638.68 317.22L638.68 317.52L642.64 317.52L642.64 317.22L646.61 317.22L646.61 316.92L650.57 316.92L650.57 317.22L654.53 317.22L654.53 317.52L658.50 317.52L658.50 317.22L662.46 317.22L662.46 317.22L666.42 317.22L666.42 317.52L670.39 317.52L670.39 317.22L674.35 317.22L674.35 317.22L678.31 317.22L678.31 317.52L682.28 317.52L682.28 317.22L686.24 317.22L686.24 317.22L690.20 317.22L690.20 317.22L694.17 317.22L694.17 317.52L698.13 317.52L698.13 317.22L702.09 317.22L702.09 317.22L706.06 317.22L706.06 317.83L710.02 317.83L710.02 317.83L713.98 317.83L713.98 317.83L717.95 317.83L717.95 324.52L721.91 324.52L721.91 324.52L725.88 324.52L725.88 324.52L729.84 324.52L729.84 324.52L733.80 324.52L733.80 324.82L737.77 324.82L737.77 325.12L741.73 325.12L741.73 325.43L745.69 325.43L745.69 314.18L749.66 314.18L749.66 314.18L753.62 314.18L753.62 308.95L757.58 308.95L757.58 308.95L761.55 308.95L761.55 308.95L765.51 308.95L765.51 315.03L769.47 315.03L769.47 315.03L773.44 315.03L773.44 307.13L777.40 307.13L777.40 399.30Z" fill="#e4262f"/><path d="M571.30 399.30L571.30 319.23L575.26 319.23L575.26 320.50L579.23 320.50L579.23 320.20L583.19 320.20L583.19 318.31L587.15 318.31L587.15 322.69L591.12 322.69L591.12 322.69L595.08 322.69L595.08 320.75L599.04 320.75L599.04 318.31L603.01 318.31L603.01 318.31L606.97 318.31L606.97 318.31L610.93 318.31L610.93 324.03L614.90 324.03L614.90 325.31L618.86 325.31L618.86 322.69L622.82 322.69L622.82 325.79L626.79 325.79L626.79 324.39L630.75 324.39L630.75 328.77L634.72 328.77L634.72 328.47L638.68 328.47L638.68 328.16L642.64 328.16L642.64 328.16L646.61 328.16L646.61 328.16L650.57 328.16L650.57 328.16L654.53 328.16L654.53 327.86L658.50 327.86L658.50 328.16L662.46 328.16L662.46 328.16L666.42 328.16L666.42 328.16L670.39 328.16L670.39 327.86L674.35 327.86L674.35 328.16L678.31 328.16L678.31 328.16L682.28 328.16L682.28 328.16L686.24 328.16L686.24 328.16L690.20 328.16L690.20 327.86L694.17 327.86L694.17 328.16L698.13 328.16L698.13 328.16L702.09 328.16L702.09 328.16L706.06 328.16L706.06 328.16L710.02 328.16L710.02 328.16L713.98 328.16L713.98 328.16L717.95 328.16L717.95 326.95L721.91 326.95L721.91 326.95L725.88 326.95L725.88 326.95L729.84 326.95L729.84 327.86L733.80 327.86L733.80 327.86L737.77 327.86L737.77 327.25L741.73 327.25L741.73 327.86L745.69 327.86L745.69 323.30L749.66 323.30L749.66 322.39L753.62 322.39L753.62 320.56L757.58 320.56L757.58 320.56L761.55 320.56L761.55 320.56L765.51 320.56L765.51 318.62L769.47 318.62L769.47 318.62L773.44 318.62L773.44 319.65L777.40 319.65L777.40 399.30Z" fill="#9dd5ee"/><path d="M571.30 399.30L571.30 319.96L575.26 319.96L575.26 321.23L579.23 321.23L579.23 320.93L583.19 320.93L583.19 319.04L587.15 319.04L587.15 323.42L591.12 323.42L591.12 323.42L595.08 323.42L595.08 321.48L599.04 321.48L599.04 319.04L603.01 319.04L603.01 319.04L606.97 319.04L606.97 319.04L610.93 319.04L610.93 324.76L614.90 324.76L614.90 326.04L618.86 326.04L618.86 323.42L622.82 323.42L622.82 326.52L626.79 326.52L626.79 325.12L630.75 325.12L630.75 330.60L634.72 330.60L634.72 331.20L638.68 331.20L638.68 331.20L642.64 331.20L642.64 331.81L646.61 331.81L646.61 331.81L650.57 331.81L650.57 332.12L654.53 332.12L654.53 332.12L658.50 332.12L658.50 332.42L662.46 332.42L662.46 332.42L666.42 332.42L666.42 332.42L670.39 332.42L670.39 332.42L674.35 332.42L674.35 332.42L678.31 332.42L678.31 332.12L682.28 332.12L682.28 332.42L686.24 332.42L686.24 332.42L690.20 332.42L690.20 332.12L694.17 332.12L694.17 331.81L698.13 331.81L698.13 331.81L702.09 331.81L702.09 332.42L706.06 332.42L706.06 332.78L710.02 332.78L710.02 332.78L713.98 332.78L713.98 332.78L717.95 332.78L717.95 332.42L721.91 332.42L721.91 332.42L725.88 332.42L725.88 332.42L729.84 332.42L729.84 328.77L733.80 328.77L733.80 328.77L737.77 328.77L737.77 328.16L741.73 328.16L741.73 328.77L745.69 328.77L745.69 323.91L749.66 323.91L749.66 323.00L753.62 323.00L753.62 321.17L757.58 321.17L757.58 321.17L761.55 321.17L761.55 321.17L765.51 321.17L765.51 319.23L769.47 319.23L769.47 319.23L773.44 319.23L773.44 320.26L777.40 320.26L777.40 399.30Z" fill="#b9690f"/><path d="M571.30 399.30L571.30 337.53L575.26 337.53L575.26 337.53L579.23 337.53L579.23 337.53L583.19 337.53L583.19 337.53L587.15 337.53L587.15 337.53L591.12 337.53L591.12 337.53L595.08 337.53L595.08 337.53L599.04 337.53L599.04 337.53L603.01 337.53L603.01 337.53L606.97 337.53L606.97 337.53L610.93 337.53L610.93 337.53L614.90 337.53L614.90 337.53L618.86 337.53L618.86 337.53L622.82 337.53L622.82 337.53L626.79 337.53L626.79 337.53L630.75 337.53L630.75 337.53L634.72 337.53L634.72 337.53L638.68 337.53L638.68 337.53L642.64 337.53L642.64 337.53L646.61 337.53L646.61 337.53L650.57 337.53L650.57 337.53L654.53 337.53L654.53 337.53L658.50 337.53L658.50 337.53L662.46 337.53L662.46 337.53L666.42 337.53L666.42 337.53L670.39 337.53L670.39 337.53L674.35 337.53L674.35 337.53L678.31 337.53L678.31 337.53L682.28 337.53L682.28 337.53L686.24 337.53L686.24 337.53L690.20 337.53L690.20 337.53L694.17 337.53L694.17 337.53L698.13 337.53L698.13 337.53L702.09 337.53L702.09 337.53L706.06 337.53L706.06 337.53L710.02 337.53L710.02 337.53L713.98 337.53L713.98 337.53L717.95 337.53L717.95 337.53L721.91 337.53L721.91 337.53L725.88 337.53L725.88 337.53L729.84 337.53L729.84 337.53L733.80 337.53L733.80 337.53L737.77 337.53L737.77 337.53L741.73 337.53L741.73 337.53L745.69 337.53L745.69 337.53L749.66 337.53L749.66 337.53L753.62 337.53L753.62 337.53L757.58 337.53L757.58 337.53L761.55 337.53L761.55 337.53L765.51 337.53L765.51 337.53L769.47 337.53L769.47 337.53L773.44 337.53L773.44 337.53L777.40 337.53L777.40 399.30Z" fill="#f6c07c"/><path d="M571.30 399.30L571.30 338.01L575.26 338.01L575.26 338.01L579.23 338.01L579.23 338.01L583.19 338.01L583.19 338.01L587.15 338.01L587.15 338.01L591.12 338.01L591.12 338.01L595.08 338.01L595.08 338.01L599.04 338.01L599.04 338.01L603.01 338.01L603.01 338.01L606.97 338.01L606.97 338.01L610.93 338.01L610.93 338.01L614.90 338.01L614.90 338.01L618.86 338.01L618.86 338.01L622.82 338.01L622.82 338.01L626.79 338.01L626.79 338.01L630.75 338.01L630.75 338.01L634.72 338.01L634.72 338.01L638.68 338.01L638.68 338.01L642.64 338.01L642.64 338.01L646.61 338.01L646.61 338.01L650.57 338.01L650.57 338.01L654.53 338.01L654.53 338.01L658.50 338.01L658.50 338.01L662.46 338.01L662.46 338.01L666.42 338.01L666.42 338.01L670.39 338.01L670.39 338.01L674.35 338.01L674.35 338.01L678.31 338.01L678.31 338.01L682.28 338.01L682.28 338.01L686.24 338.01L686.24 338.01L690.20 338.01L690.20 338.01L694.17 338.01L694.17 338.01L698.13 338.01L698.13 338.01L702.09 338.01L702.09 338.01L706.06 338.01L706.06 338.01L710.02 338.01L710.02 338.01L713.98 338.01L713.98 338.01L717.95 338.01L717.95 338.01L721.91 338.01L721.91 338.01L725.88 338.01L725.88 338.01L729.84 338.01L729.84 338.01L733.80 338.01L733.80 338.01L737.77 338.01L737.77 338.01L741.73 338.01L741.73 338.01L745.69 338.01L745.69 338.01L749.66 338.01L749.66 338.01L753.62 338.01L753.62 338.01L757.58 338.01L757.58 338.01L761.55 338.01L761.55 338.01L765.51 338.01L765.51 338.01L769.47 338.01L769.47 338.01L773.44 338.01L773.44 338.01L777.40 338.01L777.40 399.30Z" fill="#cacaca"/><path d="M571.30 399.30L571.30 349.14L575.26 349.14L575.26 349.14L579.23 349.14L579.23 349.14L583.19 349.14L583.19 349.14L587.15 349.14L587.15 349.14L591.12 349.14L591.12 349.14L595.08 349.14L595.08 349.14L599.04 349.14L599.04 349.14L603.01 349.14L603.01 349.14L606.97 349.14L606.97 349.14L610.93 349.14L610.93 349.14L614.90 349.14L614.90 349.14L618.86 349.14L618.86 349.14L622.82 349.14L622.82 349.14L626.79 349.14L626.79 349.14L630.75 349.14L630.75 349.14L634.72 349.14L634.72 349.14L638.68 349.14L638.68 349.14L642.64 349.14L642.64 349.14L646.61 349.14L646.61 349.14L650.57 349.14L650.57 349.14L654.53 349.14L654.53 349.14L658.50 349.14L658.50 349.14L662.46 349.14L662.46 349.14L666.42 349.14L666.42 349.14L670.39 349.14L670.39 349.14L674.35 349.14L674.35 349.14L678.31 349.14L678.31 349.14L682.28 349.14L682.28 349.14L686.24 349.14L686.24 349.14L690.20 349.14L690.20 349.14L694.17 349.14L694.17 349.14L698.13 349.14L698.13 349.14L702.09 349.14L702.09 349.14L706.06 349.14L706.06 349.14L710.02 349.14L710.02 349.14L713.98 349.14L713.98 349.14L717.95 349.14L717.95 349.14L721.91 349.14L721.91 349.14L725.88 349.14L725.88 349.14L729.84 349.14L729.84 349.14L733.80 349.14L733.80 349.14L737.77 349.14L737.77 349.14L741.73 349.14L741.73 349.14L745.69 349.14L745.69 349.14L749.66 349.14L749.66 349.14L753.62 349.14L753.62 349.14L757.58 349.14L757.58 349.14L761.55 349.14L761.55 349.14L765.51 349.14L765.51 349.14L769.47 349.14L769.47 349.14L773.44 349.14L773.44 349.14L777.40 349.14L777.40 399.30Z" fill="#9a948e"/><path d="M571.30 399.30L571.30 349.63L575.26 349.63L575.26 349.63L579.23 349.63L579.23 349.63L583.19 349.63L583.19 349.63L587.15 349.63L587.15 349.63L591.12 349.63L591.12 349.63L595.08 349.63L595.08 349.63L599.04 349.63L599.04 349.63L603.01 349.63L603.01 349.63L606.97 349.63L606.97 349.63L610.93 349.63L610.93 349.63L614.90 349.63L614.90 349.63L618.86 349.63L618.86 349.63L622.82 349.63L622.82 349.63L626.79 349.63L626.79 349.63L630.75 349.63L630.75 349.63L634.72 349.63L634.72 349.63L638.68 349.63L638.68 349.63L642.64 349.63L642.64 349.63L646.61 349.63L646.61 349.63L650.57 349.63L650.57 349.63L654.53 349.63L654.53 349.63L658.50 349.63L658.50 349.63L662.46 349.63L662.46 349.63L666.42 349.63L666.42 349.63L670.39 349.63L670.39 349.63L674.35 349.63L674.35 349.63L678.31 349.63L678.31 349.63L682.28 349.63L682.28 349.63L686.24 349.63L686.24 349.63L690.20 349.63L690.20 349.63L694.17 349.63L694.17 349.63L698.13 349.63L698.13 349.63L702.09 349.63L702.09 349.63L706.06 349.63L706.06 349.63L710.02 349.63L710.02 349.63L713.98 349.63L713.98 349.63L717.95 349.63L717.95 349.63L721.91 349.63L721.91 349.63L725.88 349.63L725.88 349.63L729.84 349.63L729.84 349.63L733.80 349.63L733.80 349.63L737.77 349.63L737.77 349.63L741.73 349.63L741.73 349.63L745.69 349.63L745.69 349.63L749.66 349.63L749.66 349.63L753.62 349.63L753.62 349.63L757.58 349.63L757.58 349.63L761.55 349.63L761.55 349.63L765.51 349.63L765.51 349.63L769.47 349.63L769.47 349.63L773.44 349.63L773.44 349.63L777.40 349.63L777.40 399.30Z" fill="#3d9b3c"/><path d="M571.30 399.30L571.30 358.14L575.26 358.14L575.26 358.14L579.23 358.14L579.23 358.14L583.19 358.14L583.19 358.14L587.15 358.14L587.15 358.14L591.12 358.14L591.12 358.14L595.08 358.14L595.08 358.14L599.04 358.14L599.04 358.14L603.01 358.14L603.01 358.14L606.97 358.14L606.97 358.14L610.93 358.14L610.93 358.14L614.90 358.14L614.90 358.14L618.86 358.14L618.86 358.14L622.82 358.14L622.82 358.14L626.79 358.14L626.79 358.14L630.75 358.14L630.75 358.14L634.72 358.14L634.72 358.14L638.68 358.14L638.68 358.14L642.64 358.14L642.64 358.14L646.61 358.14L646.61 358.14L650.57 358.14L650.57 358.14L654.53 358.14L654.53 358.14L658.50 358.14L658.50 358.14L662.46 358.14L662.46 358.14L666.42 358.14L666.42 358.14L670.39 358.14L670.39 358.14L674.35 358.14L674.35 358.14L678.31 358.14L678.31 358.14L682.28 358.14L682.28 358.14L686.24 358.14L686.24 358.14L690.20 358.14L690.20 358.14L694.17 358.14L694.17 358.14L698.13 358.14L698.13 358.14L702.09 358.14L702.09 358.14L706.06 358.14L706.06 358.14L710.02 358.14L710.02 358.14L713.98 358.14L713.98 358.14L717.95 358.14L717.95 358.14L721.91 358.14L721.91 358.14L725.88 358.14L725.88 358.14L729.84 358.14L729.84 358.14L733.80 358.14L733.80 358.14L737.77 358.14L737.77 358.14L741.73 358.14L741.73 358.14L745.69 358.14L745.69 358.14L749.66 358.14L749.66 358.14L753.62 358.14L753.62 358.14L757.58 358.14L757.58 358.14L761.55 358.14L761.55 358.14L765.51 358.14L765.51 358.14L769.47 358.14L769.47 358.14L773.44 358.14L773.44 358.14L777.40 358.14L777.40 399.30Z" fill="#22bbb3"/><path d="M571.30 399.30L571.30 368.29L575.26 368.29L575.26 368.29L579.23 368.29L579.23 368.29L583.19 368.29L583.19 368.29L587.15 368.29L587.15 368.29L591.12 368.29L591.12 368.29L595.08 368.29L595.08 368.29L599.04 368.29L599.04 368.29L603.01 368.29L603.01 368.29L606.97 368.29L606.97 368.29L610.93 368.29L610.93 368.29L614.90 368.29L614.90 368.29L618.86 368.29L618.86 368.29L622.82 368.29L622.82 368.29L626.79 368.29L626.79 368.29L630.75 368.29L630.75 368.29L634.72 368.29L634.72 368.29L638.68 368.29L638.68 368.29L642.64 368.29L642.64 368.29L646.61 368.29L646.61 368.29L650.57 368.29L650.57 368.29L654.53 368.29L654.53 368.29L658.50 368.29L658.50 368.29L662.46 368.29L662.46 368.29L666.42 368.29L666.42 368.29L670.39 368.29L670.39 368.29L674.35 368.29L674.35 368.29L678.31 368.29L678.31 368.29L682.28 368.29L682.28 368.29L686.24 368.29L686.24 368.29L690.20 368.29L690.20 368.29L694.17 368.29L694.17 368.29L698.13 368.29L698.13 368.29L702.09 368.29L702.09 368.29L706.06 368.29L706.06 368.29L710.02 368.29L710.02 368.29L713.98 368.29L713.98 368.29L717.95 368.29L717.95 368.29L721.91 368.29L721.91 368.29L725.88 368.29L725.88 368.29L729.84 368.29L729.84 368.29L733.80 368.29L733.80 368.29L737.77 368.29L737.77 368.29L741.73 368.29L741.73 368.29L745.69 368.29L745.69 368.29L749.66 368.29L749.66 368.29L753.62 368.29L753.62 368.29L757.58 368.29L757.58 368.29L761.55 368.29L761.55 368.29L765.51 368.29L765.51 368.29L769.47 368.29L769.47 368.29L773.44 368.29L773.44 368.29L777.40 368.29L777.40 399.30Z" fill="#0a318f"/><path d="M571.30 399.30L571.30 388.05L575.26 388.05L575.26 388.05L579.23 388.05L579.23 388.05L583.19 388.05L583.19 388.05L587.15 388.05L587.15 388.05L591.12 388.05L591.12 388.05L595.08 388.05L595.08 388.05L599.04 388.05L599.04 388.05L603.01 388.05L603.01 388.05L606.97 388.05L606.97 388.05L610.93 388.05L610.93 388.05L614.90 388.05L614.90 388.05L618.86 388.05L618.86 388.05L622.82 388.05L622.82 388.05L626.79 388.05L626.79 388.05L630.75 388.05L630.75 388.05L634.72 388.05L634.72 388.05L638.68 388.05L638.68 388.05L642.64 388.05L642.64 388.05L646.61 388.05L646.61 388.05L650.57 388.05L650.57 388.05L654.53 388.05L654.53 388.05L658.50 388.05L658.50 388.05L662.46 388.05L662.46 388.05L666.42 388.05L666.42 388.05L670.39 388.05L670.39 388.05L674.35 388.05L674.35 388.05L678.31 388.05L678.31 388.05L682.28 388.05L682.28 388.05L686.24 388.05L686.24 388.05L690.20 388.05L690.20 388.05L694.17 388.05L694.17 388.05L698.13 388.05L698.13 388.05L702.09 388.05L702.09 388.05L706.06 388.05L706.06 388.05L710.02 388.05L710.02 388.05L713.98 388.05L713.98 388.05L717.95 388.05L717.95 388.05L721.91 388.05L721.91 388.05L725.88 388.05L725.88 388.05L729.84 388.05L729.84 388.05L733.80 388.05L733.80 388.05L737.77 388.05L737.77 388.05L741.73 388.05L741.73 388.05L745.69 388.05L745.69 388.05L749.66 388.05L749.66 388.05L753.62 388.05L753.62 388.05L757.58 388.05L757.58 388.05L761.55 388.05L761.55 388.05L765.51 388.05L765.51 388.05L769.47 388.05L769.47 388.05L773.44 388.05L773.44 388.05L777.40 388.05L777.40 399.30Z" fill="#1f9fda"/><rect x="566.0" y="368.40" width="214.6" height="1" fill="#96a5aa" fill-opacity="0.6"/><rect x="566.0" y="338.00" width="214.6" height="1" fill="#96a5aa" fill-opacity="0.6"/><rect x="566.0" y="307.60" width="214.6" height="1" fill="#96a5aa" fill-opacity="0.6"/><rect x="811.9" y="398.80" width="214.1" height="1" fill="#96a5aa" fill-opacity="0.6"/><path d="M816.00 399.30L816.00 308.10L819.97 308.10L819.97 305.36L823.94 305.36L823.94 314.36L827.91 314.36L827.91 311.69L831.88 311.69L831.88 309.86L835.85 309.86L835.85 313.45L839.82 313.45L839.82 315.27L843.78 315.27L843.78 304.51L847.75 304.51L847.75 304.03L851.72 304.03L851.72 308.53L855.69 308.53L855.69 316.13L859.66 316.13L859.66 316.13L863.63 316.13L863.63 309.56L867.60 309.56L867.60 312.54L871.57 312.54L871.57 310.35L875.54 310.35L875.54 313.45L879.51 313.45L879.51 315.70L883.48 315.70L883.48 313.27L887.45 313.27L887.45 312.54L891.42 312.54L891.42 313.57L895.38 313.57L895.38 314.18L899.35 314.18L899.35 316.13L903.32 316.13L903.32 316.13L907.29 316.13L907.29 313.75L911.26 313.75L911.26 312.96L915.23 312.96L915.23 315.70L919.20 315.70L919.20 313.88L923.17 313.88L923.17 313.57L927.14 313.57L927.14 313.88L931.11 313.88L931.11 314.18L935.08 314.18L935.08 313.57L939.05 313.57L939.05 313.88L943.02 313.88L943.02 313.27L946.98 313.27L946.98 313.88L950.95 313.88L950.95 313.45L954.92 313.45L954.92 313.45L958.89 313.45L958.89 313.45L962.86 313.45L962.86 319.29L966.83 319.29L966.83 320.20L970.80 320.20L970.80 320.20L974.77 320.20L974.77 320.20L978.74 320.20L978.74 321.05L982.71 321.05L982.71 321.54L986.68 321.54L986.68 322.39L990.65 322.39L990.65 310.78L994.62 310.78L994.62 307.19L998.58 307.19L998.58 306.28L1002.55 306.28L1002.55 306.76L1006.52 306.76L1006.52 312.11L1010.49 312.11L1010.49 313.45L1014.46 313.45L1014.46 304.51L1018.43 304.51L1018.43 306.28L1022.40 306.28L1022.40 399.30Z" fill="#efc38c"/><path d="M816.00 399.30L816.00 311.50L819.97 311.50L819.97 307.92L823.94 307.92L823.94 315.94L827.91 315.94L827.91 314.18L831.88 314.18L831.88 311.93L835.85 311.93L835.85 315.94L839.82 315.94L839.82 316.86L843.78 316.86L843.78 307.01L847.75 307.01L847.75 306.09L851.72 306.09L851.72 310.59L855.69 310.59L855.69 319.10L859.66 319.10L859.66 319.10L863.63 319.10L863.63 310.17L867.60 310.17L867.60 314.18L871.57 314.18L871.57 313.27L875.54 313.27L875.54 315.94L879.51 315.94L879.51 317.28L883.48 317.28L883.48 316.73L887.45 316.73L887.45 316.43L891.42 316.43L891.42 316.92L895.38 316.92L895.38 316.73L899.35 316.73L899.35 317.65L903.32 317.65L903.32 317.65L907.29 317.65L907.29 316.55L911.26 316.55L911.26 316.25L915.23 316.25L915.23 316.73L919.20 316.73L919.20 316.43L923.17 316.43L923.17 317.04L927.14 317.04L927.14 316.73L931.11 316.73L931.11 316.55L935.08 316.55L935.08 317.04L939.05 317.04L939.05 316.73L943.02 316.73L943.02 316.43L946.98 316.43L946.98 316.73L950.95 316.73L950.95 316.86L954.92 316.86L954.92 316.86L958.89 316.86L958.89 316.86L962.86 316.86L962.86 321.78L966.83 321.78L966.83 323.12L970.80 323.12L970.80 323.12L974.77 323.12L974.77 323.12L978.74 323.12L978.74 323.12L982.71 323.12L982.71 323.60L986.68 323.60L986.68 325.37L990.65 325.37L990.65 312.84L994.62 312.84L994.62 309.68L998.58 309.68L998.58 308.34L1002.55 308.34L1002.55 308.34L1006.52 308.34L1006.52 314.61L1010.49 314.61L1010.49 315.52L1014.46 315.52L1014.46 306.09L1018.43 306.09L1018.43 307.92L1022.40 307.92L1022.40 399.30Z" fill="#c9c9c9"/><path d="M816.00 399.30L816.00 311.69L819.97 311.69L819.97 308.10L823.94 308.10L823.94 316.13L827.91 316.13L827.91 314.36L831.88 314.36L831.88 312.11L835.85 312.11L835.85 316.13L839.82 316.13L839.82 317.04L843.78 317.04L843.78 307.19L847.75 307.19L847.75 306.28L851.72 306.28L851.72 310.78L855.69 310.78L855.69 319.29L859.66 319.29L859.66 319.29L863.63 319.29L863.63 310.35L867.60 310.35L867.60 314.36L871.57 314.36L871.57 313.45L875.54 313.45L875.54 316.13L879.51 316.13L879.51 317.46L883.48 317.46L883.48 316.92L887.45 316.92L887.45 316.61L891.42 316.61L891.42 317.10L895.38 317.10L895.38 316.92L899.35 316.92L899.35 317.83L903.32 317.83L903.32 317.83L907.29 317.83L907.29 316.73L911.26 316.73L911.26 316.43L915.23 316.43L915.23 316.92L919.20 316.92L919.20 316.61L923.17 316.61L923.17 317.22L927.14 317.22L927.14 316.92L931.11 316.92L931.11 316.73L935.08 316.73L935.08 317.22L939.05 317.22L939.05 316.92L943.02 316.92L943.02 316.61L946.98 316.61L946.98 316.92L950.95 316.92L950.95 317.04L954.92 317.04L954.92 317.04L958.89 317.04L958.89 317.04L962.86 317.04L962.86 321.96L966.83 321.96L966.83 323.30L970.80 323.30L970.80 323.30L974.77 323.30L974.77 323.30L978.74 323.30L978.74 323.30L982.71 323.30L982.71 323.79L986.68 323.79L986.68 325.55L990.65 325.55L990.65 313.02L994.62 313.02L994.62 309.86L998.58 309.86L998.58 308.53L1002.55 308.53L1002.55 308.53L1006.52 308.53L1006.52 314.79L1010.49 314.79L1010.49 315.70L1014.46 315.70L1014.46 306.28L1018.43 306.28L1018.43 308.10L1022.40 308.10L1022.40 399.30Z" fill="#1b9bd7"/><path d="M816.00 399.30L816.00 340.32L819.97 340.32L819.97 340.81L823.94 340.81L823.94 335.89L827.91 335.89L827.91 335.89L831.88 335.89L831.88 334.55L835.85 334.55L835.85 334.06L839.82 334.06L839.82 338.07L843.78 338.07L843.78 334.06L847.75 334.06L847.75 334.06L851.72 334.06L851.72 334.06L855.69 334.06L855.69 337.28L859.66 337.28L859.66 334.06L863.63 334.06L863.63 335.89L867.60 335.89L867.60 325.98L871.57 325.98L871.57 332.72L875.54 332.72L875.54 330.05L879.51 330.05L879.51 333.15L883.48 333.15L883.48 336.74L887.45 336.74L887.45 335.40L891.42 335.40L891.42 328.22L895.38 328.22L895.38 336.74L899.35 336.74L899.35 334.55L903.32 334.55L903.32 330.96L907.29 330.96L907.29 329.14L911.26 329.14L911.26 330.05L915.23 330.05L915.23 330.96L919.20 330.96L919.20 331.39L923.17 331.39L923.17 330.05L927.14 330.05L927.14 333.15L931.11 333.15L931.11 335.40L935.08 335.40L935.08 333.15L939.05 333.15L939.05 325.55L943.02 325.55L943.02 333.15L946.98 333.15L946.98 335.89L950.95 335.89L950.95 334.55L954.92 334.55L954.92 334.97L958.89 334.97L958.89 335.89L962.86 335.89L962.86 336.74L966.83 336.74L966.83 335.40L970.80 335.40L970.80 337.22L974.77 337.22L974.77 337.65L978.74 337.65L978.74 337.65L982.71 337.65L982.71 344.82L986.68 344.82L986.68 337.65L990.65 337.65L990.65 338.99L994.62 338.99L994.62 338.99L998.58 338.99L998.58 336.74L1002.55 336.74L1002.55 337.22L1006.52 337.22L1006.52 344.40L1010.49 344.40L1010.49 337.65L1014.46 337.65L1014.46 338.07L1018.43 338.07L1018.43 338.07L1022.40 338.07L1022.40 399.30Z" fill="#a0d6ef"/><path d="M816.00 399.30L816.00 368.96L819.97 368.96L819.97 378.81L823.94 378.81L823.94 353.27L827.91 353.27L827.91 357.77L831.88 357.77L831.88 360.87L835.85 360.87L835.85 360.87L839.82 360.87L839.82 356.38L843.78 356.38L843.78 359.96L847.75 359.96L847.75 359.54L851.72 359.54L851.72 355.52L855.69 355.52L855.69 353.70L859.66 353.70L859.66 348.41L863.63 348.41L863.63 363.55L867.60 363.55L867.60 343.91L871.57 343.91L871.57 348.41L875.54 348.41L875.54 341.66L879.51 341.66L879.51 343.91L883.48 343.91L883.48 343.06L887.45 343.06L887.45 348.84L891.42 348.84L891.42 338.56L895.38 338.56L895.38 348.84L899.35 348.84L899.35 346.59L903.32 346.59L903.32 340.32L907.29 340.32L907.29 338.56L911.26 338.56L911.26 337.22L915.23 337.22L915.23 338.56L919.20 338.56L919.20 339.47L923.17 339.47L923.17 339.47L927.14 339.47L927.14 341.24L931.11 341.24L931.11 348.41L935.08 348.41L935.08 341.66L939.05 341.66L939.05 330.96L943.02 330.96L943.02 340.32L946.98 340.32L946.98 345.74L950.95 345.74L950.95 344.40L954.92 344.40L954.92 347.50L958.89 347.50L958.89 351.88L962.86 351.88L962.86 348.84L966.83 348.84L966.83 346.59L970.80 346.59L970.80 348.41L974.77 348.41L974.77 347.98L978.74 347.98L978.74 346.59L982.71 346.59L982.71 359.96L986.68 359.96L986.68 352.79L990.65 352.79L990.65 359.96L994.62 359.96L994.62 366.71L998.58 366.71L998.58 361.79L1002.55 361.79L1002.55 365.80L1006.52 365.80L1006.52 357.77L1010.49 357.77L1010.49 357.77L1014.46 357.77L1014.46 365.37L1018.43 365.37L1018.43 364.46L1022.40 364.46L1022.40 399.30Z" fill="#fde86e"/><path d="M816.00 399.30L816.00 372.06L819.97 372.06L819.97 381.06L823.94 381.06L823.94 359.11L827.91 359.11L827.91 359.96L831.88 359.96L831.88 368.05L835.85 368.05L835.85 367.62L839.82 367.62L839.82 358.20L843.78 358.20L843.78 377.90L847.75 377.90L847.75 377.90L851.72 377.90L851.72 362.70L855.69 362.70L855.69 359.11L859.66 359.11L859.66 354.61L863.63 354.61L863.63 376.99L867.60 376.99L867.60 358.20L871.57 358.20L871.57 359.96L875.54 359.96L875.54 356.38L879.51 356.38L879.51 356.38L883.48 356.38L883.48 363.55L887.45 363.55L887.45 362.21L891.42 362.21L891.42 360.87L895.38 360.87L895.38 353.70L899.35 353.70L899.35 373.89L903.32 373.89L903.32 359.96L907.29 359.96L907.29 354.19L911.26 354.19L911.26 359.11L915.23 359.11L915.23 354.61L919.20 354.61L919.20 364.46L923.17 364.46L923.17 359.54L927.14 359.54L927.14 362.70L931.11 362.70L931.11 362.21L935.08 362.21L935.08 356.38L939.05 356.38L939.05 348.84L943.02 348.84L943.02 356.38L946.98 356.38L946.98 360.87L950.95 360.87L950.95 356.86L954.92 356.86L954.92 359.96L958.89 359.96L958.89 361.79L962.86 361.79L962.86 357.29L966.83 357.29L966.83 354.19L970.80 354.19L970.80 356.86L974.77 356.86L974.77 354.61L978.74 354.61L978.74 354.61L982.71 354.61L982.71 362.70L986.68 362.70L986.68 356.86L990.65 356.86L990.65 369.87L994.62 369.87L994.62 372.55L998.58 372.55L998.58 370.72L1002.55 370.72L1002.55 373.46L1006.52 373.46L1006.52 373.46L1010.49 373.46L1010.49 364.46L1014.46 364.46L1014.46 371.64L1018.43 371.64L1018.43 375.65L1022.40 375.65L1022.40 399.30Z" fill="#f4855a"/><path d="M816.00 399.30L816.00 376.99L819.97 376.99L819.97 387.32L823.94 387.32L823.94 368.05L827.91 368.05L827.91 369.87L831.88 369.87L831.88 376.99L835.85 376.99L835.85 375.65L839.82 375.65L839.82 367.62L843.78 367.62L843.78 378.81L847.75 378.81L847.75 379.24L851.72 379.24L851.72 376.99L855.69 376.99L855.69 373.89L859.66 373.89L859.66 374.80L863.63 374.80L863.63 392.25L867.60 392.25L867.60 379.72L871.57 379.72L871.57 382.40L875.54 382.40L875.54 379.72L879.51 379.72L879.51 377.90L883.48 377.90L883.48 387.32L887.45 387.32L887.45 386.90L891.42 386.90L891.42 385.56L895.38 385.56L895.38 380.57L899.35 380.57L899.35 394.07L903.32 394.07L903.32 386.90L907.29 386.90L907.29 382.82L911.26 382.82L911.26 389.09L915.23 389.09L915.23 380.57L919.20 380.57L919.20 392.25L923.17 392.25L923.17 390.48L927.14 390.48L927.14 390.91L931.11 390.91L931.11 386.41L935.08 386.41L935.08 381.97L939.05 381.97L939.05 376.99L943.02 376.99L943.02 383.31L946.98 383.31L946.98 384.65L950.95 384.65L950.95 378.81L954.92 378.81L954.92 380.57L958.89 380.57L958.89 379.72L962.86 379.72L962.86 374.80L966.83 374.80L966.83 373.89L970.80 373.89L970.80 373.46L974.77 373.46L974.77 368.05L978.74 368.05L978.74 368.05L982.71 368.05L982.71 372.55L986.68 372.55L986.68 368.05L990.65 368.05L990.65 376.99L994.62 376.99L994.62 378.38L998.58 378.38L998.58 377.90L1002.55 377.90L1002.55 377.90L1006.52 377.90L1006.52 375.22L1010.49 375.22L1010.49 370.30L1014.46 370.30L1014.46 377.90L1018.43 377.90L1018.43 376.56L1022.40 376.56L1022.40 399.30Z" fill="#e4262f"/><path d="M816.00 399.30L816.00 377.23L819.97 377.23L819.97 387.57L823.94 387.57L823.94 368.29L827.91 368.29L827.91 370.12L831.88 370.12L831.88 377.23L835.85 377.23L835.85 375.89L839.82 375.89L839.82 367.87L843.78 367.87L843.78 379.05L847.75 379.05L847.75 379.48L851.72 379.48L851.72 377.23L855.69 377.23L855.69 374.13L859.66 374.13L859.66 375.04L863.63 375.04L863.63 392.49L867.60 392.49L867.60 379.97L871.57 379.97L871.57 382.64L875.54 382.64L875.54 379.97L879.51 379.97L879.51 378.14L883.48 378.14L883.48 387.57L887.45 387.57L887.45 387.14L891.42 387.14L891.42 385.80L895.38 385.80L895.38 380.82L899.35 380.82L899.35 394.31L903.32 394.31L903.32 387.14L907.29 387.14L907.29 383.07L911.26 383.07L911.26 389.33L915.23 389.33L915.23 380.82L919.20 380.82L919.20 392.49L923.17 392.49L923.17 390.73L927.14 390.73L927.14 391.15L931.11 391.15L931.11 386.65L935.08 386.65L935.08 382.22L939.05 382.22L939.05 377.23L943.02 377.23L943.02 383.55L946.98 383.55L946.98 384.89L950.95 384.89L950.95 379.05L954.92 379.05L954.92 380.82L958.89 380.82L958.89 379.97L962.86 379.97L962.86 375.04L966.83 375.04L966.83 374.13L970.80 374.13L970.80 373.70L974.77 373.70L974.77 368.29L978.74 368.29L978.74 368.29L982.71 368.29L982.71 372.79L986.68 372.79L986.68 368.29L990.65 368.29L990.65 377.23L994.62 377.23L994.62 378.63L998.58 378.63L998.58 378.14L1002.55 378.14L1002.55 378.14L1006.52 378.14L1006.52 375.47L1010.49 375.47L1010.49 370.54L1014.46 370.54L1014.46 378.14L1018.43 378.14L1018.43 376.80L1022.40 376.80L1022.40 399.30Z" fill="#9b918a"/><path d="M816.00 399.30L816.00 377.53L819.97 377.53L819.97 387.87L823.94 387.87L823.94 368.60L827.91 368.60L827.91 370.42L831.88 370.42L831.88 377.53L835.85 377.53L835.85 376.20L839.82 376.20L839.82 368.17L843.78 368.17L843.78 379.36L847.75 379.36L847.75 379.78L851.72 379.78L851.72 377.53L855.69 377.53L855.69 374.43L859.66 374.43L859.66 375.34L863.63 375.34L863.63 392.79L867.60 392.79L867.60 380.27L871.57 380.27L871.57 382.94L875.54 382.94L875.54 380.27L879.51 380.27L879.51 378.45L883.48 378.45L883.48 387.87L887.45 387.87L887.45 387.44L891.42 387.44L891.42 386.11L895.38 386.11L895.38 381.12L899.35 381.12L899.35 394.62L903.32 394.62L903.32 387.44L907.29 387.44L907.29 383.37L911.26 383.37L911.26 389.63L915.23 389.63L915.23 381.12L919.20 381.12L919.20 392.79L923.17 392.79L923.17 391.03L927.14 391.03L927.14 391.46L931.11 391.46L931.11 386.96L935.08 386.96L935.08 382.52L939.05 382.52L939.05 377.53L943.02 377.53L943.02 383.86L946.98 383.86L946.98 385.19L950.95 385.19L950.95 379.36L954.92 379.36L954.92 381.12L958.89 381.12L958.89 380.27L962.86 380.27L962.86 375.34L966.83 375.34L966.83 374.43L970.80 374.43L970.80 374.01L974.77 374.01L974.77 368.60L978.74 368.60L978.74 368.60L982.71 368.60L982.71 373.10L986.68 373.10L986.68 368.60L990.65 368.60L990.65 377.53L994.62 377.53L994.62 378.93L998.58 378.93L998.58 378.45L1002.55 378.45L1002.55 378.45L1006.52 378.45L1006.52 375.77L1010.49 375.77L1010.49 370.85L1014.46 370.85L1014.46 378.45L1018.43 378.45L1018.43 377.11L1022.40 377.11L1022.40 399.30Z" fill="#000000"/><path d="M816.00 399.30L816.00 377.72L819.97 377.72L819.97 388.05L823.94 388.05L823.94 368.78L827.91 368.78L827.91 370.60L831.88 370.60L831.88 377.72L835.85 377.72L835.85 376.38L839.82 376.38L839.82 368.35L843.78 368.35L843.78 379.54L847.75 379.54L847.75 379.97L851.72 379.97L851.72 377.72L855.69 377.72L855.69 374.62L859.66 374.62L859.66 375.53L863.63 375.53L863.63 392.98L867.60 392.98L867.60 380.45L871.57 380.45L871.57 383.13L875.54 383.13L875.54 380.45L879.51 380.45L879.51 378.63L883.48 378.63L883.48 388.05L887.45 388.05L887.45 387.63L891.42 387.63L891.42 386.29L895.38 386.29L895.38 381.30L899.35 381.30L899.35 394.80L903.32 394.80L903.32 387.63L907.29 387.63L907.29 383.55L911.26 383.55L911.26 389.82L915.23 389.82L915.23 381.30L919.20 381.30L919.20 392.98L923.17 392.98L923.17 391.21L927.14 391.21L927.14 391.64L931.11 391.64L931.11 387.14L935.08 387.14L935.08 382.70L939.05 382.70L939.05 377.72L943.02 377.72L943.02 384.04L946.98 384.04L946.98 385.38L950.95 385.38L950.95 379.54L954.92 379.54L954.92 381.30L958.89 381.30L958.89 380.45L962.86 380.45L962.86 375.53L966.83 375.53L966.83 374.62L970.80 374.62L970.80 374.19L974.77 374.19L974.77 368.78L978.74 368.78L978.74 368.78L982.71 368.78L982.71 373.28L986.68 373.28L986.68 368.78L990.65 368.78L990.65 377.72L994.62 377.72L994.62 379.11L998.58 379.11L998.58 378.63L1002.55 378.63L1002.55 378.63L1006.52 378.63L1006.52 375.95L1010.49 375.95L1010.49 371.03L1014.46 371.03L1014.46 378.63L1018.43 378.63L1018.43 377.29L1022.40 377.29L1022.40 399.30Z" fill="#3d9b3c"/><path d="M816.00 399.30L816.00 381.97L819.97 381.97L819.97 389.09L823.94 389.09L823.94 375.22L827.91 375.22L827.91 375.65L831.88 375.65L831.88 382.82L835.85 382.82L835.85 381.06L839.82 381.06L839.82 376.14L843.78 376.14L843.78 383.74L847.75 383.74L847.75 383.74L851.72 383.74L851.72 380.57L855.69 380.57L855.69 379.72L859.66 379.72L859.66 380.57L863.63 380.57L863.63 393.16L867.60 393.16L867.60 385.07L871.57 385.07L871.57 386.41L875.54 386.41L875.54 384.65L879.51 384.65L879.51 383.31L883.48 383.31L883.48 388.66L887.45 388.66L887.45 388.66L891.42 388.66L891.42 387.75L895.38 387.75L895.38 385.07L899.35 385.07L899.35 394.50L903.32 394.50L903.32 388.66L907.29 388.66L907.29 385.98L911.26 385.98L911.26 391.34L915.23 391.34L915.23 385.56L919.20 385.56L919.20 393.16L923.17 393.16L923.17 392.25L927.14 392.25L927.14 392.25L931.11 392.25L931.11 388.23L935.08 388.23L935.08 385.07L939.05 385.07L939.05 383.31L943.02 383.31L943.02 385.56L946.98 385.56L946.98 386.41L950.95 386.41L950.95 382.82L954.92 382.82L954.92 384.16L958.89 384.16L958.89 383.74L962.86 383.74L962.86 381.06L966.83 381.06L966.83 378.81L970.80 378.81L970.80 378.81L974.77 378.81L974.77 376.14L978.74 376.14L978.74 376.14L982.71 376.14L982.71 379.72L986.68 379.72L986.68 376.14L990.65 376.14L990.65 381.97L994.62 381.97L994.62 384.65L998.58 384.65L998.58 382.82L1002.55 382.82L1002.55 384.16L1006.52 384.16L1006.52 381.06L1010.49 381.06L1010.49 376.99L1014.46 376.99L1014.46 383.31L1018.43 383.31L1018.43 382.82L1022.40 382.82L1022.40 399.30Z" fill="#0b3190"/><path d="M816.00 399.30L816.00 390.00L819.97 390.00L819.97 391.82L823.94 391.82L823.94 390.00L827.91 390.00L827.91 390.00L831.88 390.00L831.88 390.00L835.85 390.00L835.85 390.00L839.82 390.00L839.82 390.00L843.78 390.00L843.78 390.00L847.75 390.00L847.75 390.00L851.72 390.00L851.72 390.00L855.69 390.00L855.69 390.00L859.66 390.00L859.66 390.00L863.63 390.00L863.63 394.92L867.60 394.92L867.60 390.00L871.57 390.00L871.57 390.00L875.54 390.00L875.54 390.00L879.51 390.00L879.51 390.91L883.48 390.91L883.48 390.91L887.45 390.91L887.45 390.91L891.42 390.91L891.42 390.91L895.38 390.91L895.38 390.91L899.35 390.91L899.35 394.92L903.32 394.92L903.32 390.91L907.29 390.91L907.29 390.91L911.26 390.91L911.26 393.16L915.23 393.16L915.23 390.91L919.20 390.91L919.20 393.58L923.17 393.58L923.17 393.58L927.14 393.58L927.14 393.58L931.11 393.58L931.11 390.48L935.08 390.48L935.08 390.48L939.05 390.48L939.05 390.48L943.02 390.48L943.02 390.48L946.98 390.48L946.98 390.48L950.95 390.48L950.95 390.48L954.92 390.48L954.92 390.48L958.89 390.48L958.89 390.48L962.86 390.48L962.86 390.48L966.83 390.48L966.83 390.48L970.80 390.48L970.80 390.48L974.77 390.48L974.77 390.48L978.74 390.48L978.74 390.48L982.71 390.48L982.71 390.48L986.68 390.48L986.68 390.48L990.65 390.48L990.65 390.48L994.62 390.48L994.62 390.48L998.58 390.48L998.58 390.48L1002.55 390.48L1002.55 390.48L1006.52 390.48L1006.52 390.48L1010.49 390.48L1010.49 390.48L1014.46 390.48L1014.46 390.48L1018.43 390.48L1018.43 390.48L1022.40 390.48L1022.40 399.30Z" fill="#c8629f"/><rect x="811.9" y="368.40" width="214.1" height="1" fill="#96a5aa" fill-opacity="0.6"/><rect x="811.9" y="338.00" width="214.1" height="1" fill="#96a5aa" fill-opacity="0.6"/><rect x="811.9" y="307.60" width="214.1" height="1" fill="#96a5aa" fill-opacity="0.6"/></svg>
<div class="a" style="right:1030.6px;top:395.85px;font-size:8.8px;color:#2a2a2a;text-align:right;transform:scaleX(0.84);transform-origin:100% 0">0</div>
<div class="a" style="right:1030.6px;top:382.28px;font-size:8.8px;color:#2a2a2a;text-align:right;transform:scaleX(0.84);transform-origin:100% 0">1</div>
<div class="a" style="right:1030.6px;top:368.71px;font-size:8.8px;color:#2a2a2a;text-align:right;transform:scaleX(0.84);transform-origin:100% 0">2</div>
<div class="a" style="right:1030.6px;top:355.14px;font-size:8.8px;color:#2a2a2a;text-align:right;transform:scaleX(0.84);transform-origin:100% 0">3</div>
<div class="a" style="right:1030.6px;top:341.57px;font-size:8.8px;color:#2a2a2a;text-align:right;transform:scaleX(0.84);transform-origin:100% 0">4</div>
<div class="a" style="right:1030.6px;top:328.00px;font-size:8.8px;color:#2a2a2a;text-align:right;transform:scaleX(0.84);transform-origin:100% 0">5</div>
<div class="a" style="right:1030.6px;top:314.43px;font-size:8.8px;color:#2a2a2a;text-align:right;transform:scaleX(0.84);transform-origin:100% 0">6</div>
<div class="a" style="right:1030.6px;top:300.86px;font-size:8.8px;color:#2a2a2a;text-align:right;transform:scaleX(0.84);transform-origin:100% 0">7</div>
<div class="a" style="right:785.1px;top:395.85px;font-size:8.8px;color:#2a2a2a;text-align:right;transform:scaleX(0.84);transform-origin:100% 0">0</div>
<div class="a" style="right:785.1px;top:382.28px;font-size:8.8px;color:#2a2a2a;text-align:right;transform:scaleX(0.84);transform-origin:100% 0">1</div>
<div class="a" style="right:785.1px;top:368.71px;font-size:8.8px;color:#2a2a2a;text-align:right;transform:scaleX(0.84);transform-origin:100% 0">2</div>
<div class="a" style="right:785.1px;top:355.14px;font-size:8.8px;color:#2a2a2a;text-align:right;transform:scaleX(0.84);transform-origin:100% 0">3</div>
<div class="a" style="right:785.1px;top:341.57px;font-size:8.8px;color:#2a2a2a;text-align:right;transform:scaleX(0.84);transform-origin:100% 0">4</div>
<div class="a" style="right:785.1px;top:328.00px;font-size:8.8px;color:#2a2a2a;text-align:right;transform:scaleX(0.84);transform-origin:100% 0">5</div>
<div class="a" style="right:785.1px;top:314.43px;font-size:8.8px;color:#2a2a2a;text-align:right;transform:scaleX(0.84);transform-origin:100% 0">6</div>
<div class="a" style="right:785.1px;top:300.86px;font-size:8.8px;color:#2a2a2a;text-align:right;transform:scaleX(0.84);transform-origin:100% 0">7</div>
<div class="a" style="right:515.0px;top:395.65px;font-size:8.8px;color:#2a2a2a;text-align:right;transform:scaleX(0.84);transform-origin:100% 0">0</div>
<div class="a" style="right:515.0px;top:365.25px;font-size:8.8px;color:#2a2a2a;text-align:right;transform:scaleX(0.84);transform-origin:100% 0">50</div>
<div class="a" style="right:515.0px;top:334.85px;font-size:8.8px;color:#2a2a2a;text-align:right;transform:scaleX(0.84);transform-origin:100% 0">100</div>
<div class="a" style="right:515.0px;top:304.45px;font-size:8.8px;color:#2a2a2a;text-align:right;transform:scaleX(0.84);transform-origin:100% 0">150</div>
<div class="a" style="right:269.8px;top:395.65px;font-size:8.8px;color:#2a2a2a;text-align:right;transform:scaleX(0.84);transform-origin:100% 0">0</div>
<div class="a" style="right:269.8px;top:365.25px;font-size:8.8px;color:#2a2a2a;text-align:right;transform:scaleX(0.84);transform-origin:100% 0">50</div>
<div class="a" style="right:269.8px;top:334.85px;font-size:8.8px;color:#2a2a2a;text-align:right;transform:scaleX(0.84);transform-origin:100% 0">100</div>
<div class="a" style="right:269.8px;top:304.45px;font-size:8.8px;color:#2a2a2a;text-align:right;transform:scaleX(0.84);transform-origin:100% 0">150</div>
<div class="a" style="left:42.6px;width:30px;text-align:center;top:404.60px;font-size:8.5px;font-weight:bold;color:#262626;transform:scaleX(0.93);transform-origin:50% 0">2020</div>
<div class="a" style="left:114.5px;width:30px;text-align:center;top:404.60px;font-size:8.5px;font-weight:bold;color:#262626;transform:scaleX(0.93);transform-origin:50% 0">2030</div>
<div class="a" style="left:186.7px;width:30px;text-align:center;top:404.60px;font-size:8.5px;font-weight:bold;color:#262626;transform:scaleX(0.93);transform-origin:50% 0">2040</div>
<div class="a" style="left:258.4px;width:30px;text-align:center;top:404.60px;font-size:8.5px;font-weight:bold;color:#262626;transform:scaleX(0.93);transform-origin:50% 0">2050</div>
<div class="a" style="left:288.2px;width:30px;text-align:center;top:404.60px;font-size:8.5px;font-weight:bold;color:#262626;transform:scaleX(0.93);transform-origin:50% 0">2020</div>
<div class="a" style="left:360.3px;width:30px;text-align:center;top:404.60px;font-size:8.5px;font-weight:bold;color:#262626;transform:scaleX(0.93);transform-origin:50% 0">2030</div>
<div class="a" style="left:432.2px;width:30px;text-align:center;top:404.60px;font-size:8.5px;font-weight:bold;color:#262626;transform:scaleX(0.93);transform-origin:50% 0">2040</div>
<div class="a" style="left:504.0px;width:30px;text-align:center;top:404.60px;font-size:8.5px;font-weight:bold;color:#262626;transform:scaleX(0.93);transform-origin:50% 0">2050</div>
<div class="a" style="left:553.3px;width:40px;text-align:center;top:404.60px;font-size:8.5px;font-weight:bold;color:#262626;transform:scaleX(0.93);transform-origin:50% 0">Jan01</div>
<div class="a" style="left:586.7px;width:40px;text-align:center;top:404.60px;font-size:8.5px;font-weight:bold;color:#262626;transform:scaleX(0.93);transform-origin:50% 0">Mar01</div>
<div class="a" style="left:621.1px;width:40px;text-align:center;top:404.60px;font-size:8.5px;font-weight:bold;color:#262626;transform:scaleX(0.93);transform-origin:50% 0">May01</div>
<div class="a" style="left:655.9px;width:40px;text-align:center;top:404.60px;font-size:8.5px;font-weight:bold;color:#262626;transform:scaleX(0.93);transform-origin:50% 0">Jul01</div>
<div class="a" style="left:690.8px;width:40px;text-align:center;top:404.60px;font-size:8.5px;font-weight:bold;color:#262626;transform:scaleX(0.93);transform-origin:50% 0">Sep01</div>
<div class="a" style="left:725.3px;width:40px;text-align:center;top:404.60px;font-size:8.5px;font-weight:bold;color:#262626;transform:scaleX(0.93);transform-origin:50% 0">Nov01</div>
<div class="a" style="left:759.2px;width:40px;text-align:center;top:404.60px;font-size:8.5px;font-weight:bold;color:#262626;transform:scaleX(0.93);transform-origin:50% 0">Dec31</div>
<div class="a" style="left:797.9px;width:40px;text-align:center;top:404.60px;font-size:8.5px;font-weight:bold;color:#262626;transform:scaleX(0.93);transform-origin:50% 0">Jan01</div>
<div class="a" style="left:831.3px;width:40px;text-align:center;top:404.60px;font-size:8.5px;font-weight:bold;color:#262626;transform:scaleX(0.93);transform-origin:50% 0">Mar01</div>
<div class="a" style="left:865.7px;width:40px;text-align:center;top:404.60px;font-size:8.5px;font-weight:bold;color:#262626;transform:scaleX(0.93);transform-origin:50% 0">May01</div>
<div class="a" style="left:900.5px;width:40px;text-align:center;top:404.60px;font-size:8.5px;font-weight:bold;color:#262626;transform:scaleX(0.93);transform-origin:50% 0">Jul01</div>
<div class="a" style="left:935.4px;width:40px;text-align:center;top:404.60px;font-size:8.5px;font-weight:bold;color:#262626;transform:scaleX(0.93);transform-origin:50% 0">Sep01</div>
<div class="a" style="left:969.9px;width:40px;text-align:center;top:404.60px;font-size:8.5px;font-weight:bold;color:#262626;transform:scaleX(0.93);transform-origin:50% 0">Nov01</div>
<div class="a" style="left:1003.8px;width:40px;text-align:center;top:404.60px;font-size:8.5px;font-weight:bold;color:#262626;transform:scaleX(0.93);transform-origin:50% 0">Dec31</div>
<div id="lg0" class="a txt" style="left:73.30px;top:421.40px;font-size:7.8px;font-weight:normal;color:#2c2c2c;transform:scaleX(1.0502);-webkit-text-stroke:0.12px #2c2c2c;">Storage charging</div>
<div id="lg1" class="a txt" style="left:73.30px;top:430.76px;font-size:7.8px;font-weight:normal;color:#2c2c2c;transform:scaleX(1.0829);-webkit-text-stroke:0.12px #2c2c2c;">Hydrogen production</div>
<div id="lg2" class="a txt" style="left:73.30px;top:440.12px;font-size:7.8px;font-weight:normal;color:#2c2c2c;transform:scaleX(1.0062);-webkit-text-stroke:0.12px #2c2c2c;">EV charging</div>
<div id="lg3" class="a txt" style="left:73.30px;top:449.48px;font-size:7.8px;font-weight:normal;color:#2c2c2c;transform:scaleX(1.0327);-webkit-text-stroke:0.12px #2c2c2c;">Rail, aviation, shipping</div>
<div id="lg4" class="a txt" style="left:73.30px;top:458.84px;font-size:7.8px;font-weight:normal;color:#2c2c2c;transform:scaleX(1.0244);-webkit-text-stroke:0.12px #2c2c2c;">Resid. appl. &amp; lighting</div>
<div id="lg5" class="a txt" style="left:73.30px;top:468.20px;font-size:7.8px;font-weight:normal;color:#2c2c2c;transform:scaleX(1.0412);-webkit-text-stroke:0.12px #2c2c2c;">Comm. appl. &amp; lighting</div>
<div id="lg6" class="a txt" style="left:183.30px;top:421.40px;font-size:7.8px;font-weight:normal;color:#2c2c2c;transform:scaleX(1.0467);-webkit-text-stroke:0.12px #2c2c2c;">Space cooling</div>
<div id="lg7" class="a txt" style="left:183.30px;top:430.76px;font-size:7.8px;font-weight:normal;color:#2c2c2c;transform:scaleX(1.0632);-webkit-text-stroke:0.12px #2c2c2c;">Heating &amp; cooking</div>
<div id="lg8" class="a txt" style="left:183.30px;top:440.12px;font-size:7.8px;font-weight:normal;color:#2c2c2c;transform:scaleX(1.0680);-webkit-text-stroke:0.12px #2c2c2c;">Manufacturing</div>
<div id="lg9" class="a txt" style="left:183.30px;top:449.48px;font-size:7.8px;font-weight:normal;color:#2c2c2c;transform:scaleX(1.0245);-webkit-text-stroke:0.12px #2c2c2c;">Energy sector own use</div>
<div id="lgb10" class="a txt" style="left:183.30px;top:458.84px;font-size:7.8px;font-weight:bold;color:#2a2a2a;transform:scaleX(1.0419);">Other</div>
<div id="td0" class="a txt" style="left:164.90px;top:470.86px;font-size:5.6px;font-weight:normal;color:#4a4a4a;transform:scaleX(1.0482);">T&amp;D losses allocated to demand</div>
<div id="lg11" class="a txt" style="left:317.90px;top:421.40px;font-size:7.8px;font-weight:normal;color:#2c2c2c;transform:scaleX(1.0361);-webkit-text-stroke:0.12px #2c2c2c;">Storage discharge</div>
<div id="lg12" class="a txt" style="left:317.90px;top:430.76px;font-size:7.8px;font-weight:normal;color:#2c2c2c;transform:scaleX(1.0751);-webkit-text-stroke:0.12px #2c2c2c;">Vehicle-to-grid</div>
<div id="lg13" class="a txt" style="left:317.90px;top:440.12px;font-size:7.8px;font-weight:normal;color:#2c2c2c;transform:scaleX(1.0607);-webkit-text-stroke:0.12px #2c2c2c;">Offshore wind</div>
<div id="lg14" class="a txt" style="left:317.90px;top:449.48px;font-size:7.8px;font-weight:normal;color:#2c2c2c;transform:scaleX(1.0494);-webkit-text-stroke:0.12px #2c2c2c;">Onshore wind</div>
<div id="lgb15" class="a txt" style="left:317.90px;top:458.84px;font-size:7.8px;font-weight:bold;color:#2a2a2a;transform:scaleX(1.0244);">Solar PV</div>
<div id="lg16" class="a txt" style="left:317.90px;top:468.20px;font-size:7.8px;font-weight:normal;color:#2c2c2c;transform:scaleX(1.0494);-webkit-text-stroke:0.12px #2c2c2c;">Solar+storage</div>
<div id="lg17" class="a txt" style="left:411.60px;top:421.40px;font-size:7.8px;font-weight:normal;color:#2c2c2c;transform:scaleX(1.0494);-webkit-text-stroke:0.12px #2c2c2c;">Oil-fired</div>
<div id="lg18" class="a txt" style="left:411.60px;top:430.76px;font-size:7.8px;font-weight:normal;color:#2c2c2c;transform:scaleX(1.0494);-webkit-text-stroke:0.12px #2c2c2c;">Gas-fired</div>
<div id="lg19" class="a txt" style="left:411.60px;top:440.12px;font-size:7.8px;font-weight:normal;color:#2c2c2c;transform:scaleX(1.0494);-webkit-text-stroke:0.12px #2c2c2c;">Coal-fired</div>
<div id="lg20" class="a txt" style="left:411.60px;top:449.48px;font-size:7.8px;font-weight:normal;color:#2c2c2c;transform:scaleX(1.0494);-webkit-text-stroke:0.12px #2c2c2c;">Bioenergy</div>
<div id="lg21" class="a txt" style="left:411.60px;top:458.84px;font-size:7.8px;font-weight:normal;color:#2c2c2c;transform:scaleX(1.0494);-webkit-text-stroke:0.12px #2c2c2c;">Hydropower</div>
<div id="lgb22" class="a txt" style="left:411.60px;top:468.20px;font-size:7.8px;font-weight:bold;color:#2a2a2a;transform:scaleX(0.9871);">Nuclear</div>
<div id="lg23" class="a txt" style="left:588.50px;top:421.40px;font-size:7.8px;font-weight:normal;color:#2c2c2c;transform:scaleX(1.0383);-webkit-text-stroke:0.12px #2c2c2c;">Storage charging</div>
<div id="lg24" class="a txt" style="left:588.50px;top:430.76px;font-size:7.8px;font-weight:normal;color:#2c2c2c;transform:scaleX(1.0773);-webkit-text-stroke:0.12px #2c2c2c;">Hydrogen production</div>
<div id="lg25" class="a txt" style="left:588.50px;top:440.12px;font-size:7.8px;font-weight:normal;color:#2c2c2c;transform:scaleX(1.0494);-webkit-text-stroke:0.12px #2c2c2c;">Space cooling</div>
<div id="lg26" class="a txt" style="left:588.50px;top:449.48px;font-size:7.8px;font-weight:normal;color:#2c2c2c;transform:scaleX(1.0494);-webkit-text-stroke:0.12px #2c2c2c;">Heating &amp; cooking</div>
<div id="lg27" class="a txt" style="left:588.50px;top:458.84px;font-size:7.8px;font-weight:normal;color:#2c2c2c;transform:scaleX(1.0494);-webkit-text-stroke:0.12px #2c2c2c;">EV charging</div>
<div id="lg28" class="a txt" style="left:588.50px;top:468.20px;font-size:7.8px;font-weight:normal;color:#2c2c2c;transform:scaleX(1.0494);-webkit-text-stroke:0.12px #2c2c2c;">Rail, aviation, shipping</div>
<div id="lg29" class="a txt" style="left:698.50px;top:421.40px;font-size:7.8px;font-weight:normal;color:#2c2c2c;transform:scaleX(1.0508);-webkit-text-stroke:0.12px #2c2c2c;">Resid. appl.&amp; lighting</div>
<div id="lg30" class="a txt" style="left:698.50px;top:430.76px;font-size:7.8px;font-weight:normal;color:#2c2c2c;transform:scaleX(1.0616);-webkit-text-stroke:0.12px #2c2c2c;">Comm. appl.&amp; lighting</div>
<div id="lg31" class="a txt" style="left:698.50px;top:440.12px;font-size:7.8px;font-weight:normal;color:#2c2c2c;transform:scaleX(1.0494);-webkit-text-stroke:0.12px #2c2c2c;">Manufacturing</div>
<div id="lg32" class="a txt" style="left:698.50px;top:449.48px;font-size:7.8px;font-weight:normal;color:#2c2c2c;transform:scaleX(1.0494);-webkit-text-stroke:0.12px #2c2c2c;">Energy sector own use</div>
<div id="lgb33" class="a txt" style="left:698.50px;top:458.84px;font-size:7.8px;font-weight:bold;color:#2a2a2a;transform:scaleX(1.0419);">Other</div>
<div id="td2" class="a txt" style="left:680.70px;top:470.86px;font-size:5.6px;font-weight:normal;color:#4a4a4a;transform:scaleX(1.0482);">T&amp;D losses allocated to demand</div>
<div id="lg34" class="a txt" style="left:835.20px;top:421.40px;font-size:7.8px;font-weight:normal;color:#2c2c2c;transform:scaleX(1.0494);-webkit-text-stroke:0.12px #2c2c2c;">Storage discharge</div>
<div id="lg35" class="a txt" style="left:835.20px;top:430.76px;font-size:7.8px;font-weight:normal;color:#2c2c2c;transform:scaleX(1.0494);-webkit-text-stroke:0.12px #2c2c2c;">Vehicle-to-grid</div>
<div id="lg36" class="a txt" style="left:835.20px;top:440.12px;font-size:7.8px;font-weight:normal;color:#2c2c2c;transform:scaleX(1.0494);-webkit-text-stroke:0.12px #2c2c2c;">Offshore wind</div>
<div id="lg37" class="a txt" style="left:835.20px;top:449.48px;font-size:7.8px;font-weight:normal;color:#2c2c2c;transform:scaleX(1.0494);-webkit-text-stroke:0.12px #2c2c2c;">Onshore wind</div>
<div id="lgb38" class="a txt" style="left:835.20px;top:458.84px;font-size:7.8px;font-weight:bold;color:#2a2a2a;transform:scaleX(1.0244);">Solar PV</div>
<div id="lg39" class="a txt" style="left:835.20px;top:468.20px;font-size:7.8px;font-weight:normal;color:#2c2c2c;transform:scaleX(1.0494);-webkit-text-stroke:0.12px #2c2c2c;">Solar+storage</div>
<div id="lg40" class="a txt" style="left:929.40px;top:421.40px;font-size:7.8px;font-weight:normal;color:#2c2c2c;transform:scaleX(1.0494);-webkit-text-stroke:0.12px #2c2c2c;">Oil-fired</div>
<div id="lg41" class="a txt" style="left:929.40px;top:430.76px;font-size:7.8px;font-weight:normal;color:#2c2c2c;transform:scaleX(1.0494);-webkit-text-stroke:0.12px #2c2c2c;">Gas-fired</div>
<div id="lg42" class="a txt" style="left:929.40px;top:440.12px;font-size:7.8px;font-weight:normal;color:#2c2c2c;transform:scaleX(1.0494);-webkit-text-stroke:0.12px #2c2c2c;">Coal-fired</div>
<div id="lg43" class="a txt" style="left:929.40px;top:449.48px;font-size:7.8px;font-weight:normal;color:#2c2c2c;transform:scaleX(1.0494);-webkit-text-stroke:0.12px #2c2c2c;">Bioenergy</div>
<div id="lg44" class="a txt" style="left:929.40px;top:458.84px;font-size:7.8px;font-weight:normal;color:#2c2c2c;transform:scaleX(1.0494);-webkit-text-stroke:0.12px #2c2c2c;">Hydropower</div>
<div id="lgb45" class="a txt" style="left:929.40px;top:468.20px;font-size:7.8px;font-weight:bold;color:#2a2a2a;transform:scaleX(0.9871);">Nuclear</div>
<div class="sw" style="left:53.8px;top:420.5px;background:#f6c07c"></div>
<div class="sw" style="left:53.8px;top:429.9px;background:#e4262f"></div>
<div class="sw" style="left:53.8px;top:439.2px;background:#cacaca"></div>
<div class="sw" style="left:53.8px;top:448.6px;background:#9a948e"></div>
<div class="sw" style="left:53.8px;top:457.9px;background:#3d9b3c"></div>
<div class="sw" style="left:53.8px;top:467.3px;background:#22bbb3"></div>
<div class="sw" style="left:163.3px;top:420.5px;background:#9dd5ee"></div>
<div class="sw" style="left:163.3px;top:429.9px;background:#b9690f"></div>
<div class="sw" style="left:163.3px;top:439.2px;background:#0a318f"></div>
<div class="sw" style="left:163.3px;top:448.6px;background:#1f9fda"></div>
<div class="sw" style="left:163.3px;top:457.9px;background:#f8ee9c"></div>
<div class="sw" style="left:299.0px;top:420.5px;background:#efc38c"></div>
<div class="sw" style="left:299.0px;top:429.9px;background:#c9c9c9"></div>
<div class="sw" style="left:299.0px;top:439.2px;background:#1b9bd7"></div>
<div class="sw" style="left:299.0px;top:448.6px;background:#a0d6ef"></div>
<div class="sw" style="left:299.0px;top:457.9px;background:#fde86e"></div>
<div class="sw" style="left:299.0px;top:467.3px;background:#f4855a"></div>
<div class="sw" style="left:392.9px;top:420.5px;background:#e4262f"></div>
<div class="sw" style="left:392.9px;top:429.9px;background:#9b918a"></div>
<div class="sw" style="left:392.9px;top:439.2px;background:#000000"></div>
<div class="sw" style="left:392.9px;top:448.6px;background:#3d9b3c"></div>
<div class="sw" style="left:392.9px;top:457.9px;background:#0b3190"></div>
<div class="sw" style="left:392.9px;top:467.3px;background:#c8629f"></div>
<div class="sw" style="left:569.2px;top:420.5px;background:#f6c07c"></div>
<div class="sw" style="left:569.2px;top:429.9px;background:#e4262f"></div>
<div class="sw" style="left:569.2px;top:439.2px;background:#9dd5ee"></div>
<div class="sw" style="left:569.2px;top:448.6px;background:#b9690f"></div>
<div class="sw" style="left:569.2px;top:457.9px;background:#cacaca"></div>
<div class="sw" style="left:569.2px;top:467.3px;background:#9a948e"></div>
<div class="sw" style="left:679.1px;top:420.5px;background:#3d9b3c"></div>
<div class="sw" style="left:679.1px;top:429.9px;background:#22bbb3"></div>
<div class="sw" style="left:679.1px;top:439.2px;background:#0a318f"></div>
<div class="sw" style="left:679.1px;top:448.6px;background:#1f9fda"></div>
<div class="sw" style="left:679.1px;top:457.9px;background:#f8ee9c"></div>
<div class="sw" style="left:815.6px;top:420.5px;background:#efc38c"></div>
<div class="sw" style="left:815.6px;top:429.9px;background:#c9c9c9"></div>
<div class="sw" style="left:815.6px;top:439.2px;background:#1b9bd7"></div>
<div class="sw" style="left:815.6px;top:448.6px;background:#a0d6ef"></div>
<div class="sw" style="left:815.6px;top:457.9px;background:#fde86e"></div>
<div class="sw" style="left:815.6px;top:467.3px;background:#f4855a"></div>
<div class="sw" style="left:910.0px;top:420.5px;background:#e4262f"></div>
<div class="sw" style="left:910.0px;top:429.9px;background:#9b918a"></div>
<div class="sw" style="left:910.0px;top:439.2px;background:#000000"></div>
<div class="sw" style="left:910.0px;top:448.6px;background:#3d9b3c"></div>
<div class="sw" style="left:910.0px;top:457.9px;background:#0b3190"></div>
<div class="sw" style="left:910.0px;top:467.3px;background:#c8629f"></div>
<svg class="a" style="left:0;top:0" width="1080" height="569" viewBox="0 0 1080 569"><path d="M376.6 476.4L377.7 474.5L378.6 472.3L380.8 465.2L382.2 462.2L383.0 461.0L385.1 459.3L387.9 458.3L390.4 457.7L390.7 456.7L390.9 455.1L390.8 448.2L390.4 448.0L389.3 447.7L377.8 447.7L370.3 446.9L369.0 447.2L368.3 448.1L368.0 449.2L368.1 477.0L368.7 477.9L369.6 478.5L373.8 478.6L375.1 478.1ZM370.5 476.1L370.5 449.4L377.9 450.2L389.1 450.2L389.1 455.5L387.3 455.8L385.5 456.4L383.9 457.1L382.4 458.1L381.1 459.4L380.0 460.8L379.1 462.5L376.3 471.4L374.9 474.3L373.5 476.1ZM209.4 461.4L210.8 463.3L212.0 465.3L216.7 475.4L218.1 477.6L219.1 478.9L219.9 479.4L220.5 479.6L224.9 479.6L225.8 479.4L226.5 478.9L227.0 478.2L227.2 477.3L227.2 450.0L227.0 449.1L226.5 448.4L226.0 448.0L225.1 447.7L219.3 447.8L218.3 448.5L216.3 451.1L212.9 449.1L208.5 447.1L204.1 446.0L203.2 446.1L202.4 446.5L202.3 446.6L202.3 457.1L203.1 457.6L206.2 458.7L207.9 459.9ZM204.1 448.5L209.0 450.0L211.7 451.3L215.0 453.2L216.2 453.6L217.2 453.5L217.9 453.0L220.1 450.2L224.7 450.2L224.7 477.1L220.8 477.1L218.9 474.2L214.5 464.7L212.2 460.9L210.4 458.8L208.4 457.2L206.3 456.0L204.1 455.3ZM275.3 458.5L277.0 459.2L278.3 460.2L279.5 461.2L280.9 462.9L282.7 466.5L286.1 475.0L287.1 476.6L288.3 478.1L289.0 478.5L289.6 478.7L293.3 478.7L294.2 478.5L295.0 478.0L295.5 477.3L295.6 476.4L295.6 449.2L295.5 448.3L294.9 447.5L294.2 447.0L293.3 446.9L290.2 447.2L284.5 447.6L265.7 447.7L264.8 447.9L264.2 448.2L264.3 455.4L264.5 456.4L265.0 457.8L272.2 457.8ZM270.7 455.2L265.9 455.4L265.9 450.2L284.6 450.1L288.7 449.9L293.1 449.4L293.1 476.2L289.9 476.2L289.4 475.6L288.2 473.4L285.3 466.1L283.6 462.6L281.8 460.0L279.9 458.2L276.9 456.4L274.0 455.5ZM343.7 522.0L339.2 523.7L337.6 524.7L337.1 525.4L336.8 526.2L336.8 530.2L337.2 531.3L338.0 532.0L339.1 532.3L369.7 532.3L371.0 531.9L371.5 531.5L371.9 530.7L372.0 525.8L371.6 524.6L370.6 523.7L368.5 523.2L367.0 522.3L365.6 520.5L364.1 517.4L341.3 449.8L339.9 447.4L339.0 446.3L337.9 446.0L335.9 446.1L330.1 447.0L326.2 447.8L322.8 448.9L319.8 450.2L319.1 451.0L318.9 452.0L318.1 459.9L318.5 460.9L319.2 461.7L325.5 463.9L326.2 466.2L326.9 467.0L327.7 468.2L331.1 478.6L331.3 479.9L331.4 482.1L336.0 496.5L337.5 498.5L339.6 504.8L339.9 506.2L339.7 507.9L343.5 519.6L343.9 521.4ZM327.5 462.1L320.6 459.5L321.4 452.2L325.1 450.7L328.6 449.8L335.1 448.7L337.6 448.5L338.6 450.0L339.2 451.5L352.1 489.5L336.4 489.5ZM284.0 498.4L284.5 497.7L284.7 496.8L284.7 482.4L284.5 481.5L284.0 480.7L283.2 480.2L282.4 480.1L265.7 480.1L264.9 480.2L264.4 481.5L264.3 483.1L264.3 496.9L264.4 497.9L264.9 498.9L265.7 499.1L282.4 499.1L283.2 498.9ZM282.2 489.5L265.9 489.5L265.9 482.6L282.2 482.6ZM210.3 532.6L213.3 531.8L216.1 530.8L218.7 529.5L221.1 527.9L223.4 526.0L225.5 524.0L227.2 521.9L228.6 519.8L229.9 517.5L230.9 515.1L231.7 512.6L232.2 510.0L232.7 504.5L232.6 501.8L232.2 499.5L231.0 495.3L230.0 493.2L228.7 491.2L227.3 489.4L225.6 487.6L223.1 485.5L219.4 483.1L215.6 481.1L202.2 475.5L199.0 473.9L195.1 471.4L192.8 469.1L191.9 467.1L191.5 465.2L191.6 463.2L192.3 461.6L193.5 460.1L195.2 458.9L197.5 458.1L199.8 457.6L200.7 457.1L200.7 446.6L200.0 446.2L199.1 446.0L196.1 446.1L193.1 446.5L190.5 447.2L187.9 448.1L185.4 449.2L183.1 450.7L180.9 452.4L178.8 454.3L175.8 458.2L173.5 462.4L172.2 467.0L171.8 469.6L171.7 472.0L172.2 476.7L173.5 480.8L174.6 483.0L177.2 486.5L180.5 489.6L183.2 491.4L187.0 493.5L191.8 495.8L202.2 500.2L205.4 501.8L207.5 503.1L209.3 504.5L211.5 507.1L212.6 509.4L212.9 512.8L212.6 515.3L211.6 517.4L210.0 519.2L208.5 520.2L205.8 521.2L203.1 521.8L202.2 522.4L202.2 532.6L203.0 533.2L203.9 533.4L207.2 533.1ZM184.8 489.5L180.6 486.3L177.8 483.3L176.7 481.6L175.1 478.0L174.3 474.0L174.3 469.7L174.6 467.5L175.8 463.5L177.8 459.6L179.1 457.8L182.4 454.3L184.4 452.8L186.5 451.5L188.8 450.4L191.1 449.6L193.6 449.0L198.8 448.5L198.8 455.3L195.9 455.9L193.3 457.1L191.1 458.9L189.7 461.1L189.2 462.7L189.0 465.4L189.5 467.8L190.4 469.9L191.3 471.2L192.9 472.8L196.3 475.3L200.4 477.4L210.7 481.6L216.3 484.3L220.8 486.9L223.9 489.5ZM392.4 448.4L392.5 455.7L392.3 457.1L391.8 458.5L391.8 519.2L391.4 520.5L390.2 521.7L384.4 523.7L383.4 524.4L382.9 525.6L383.0 530.7L383.4 531.5L383.9 531.9L385.2 532.3L421.3 532.2L422.5 531.5L422.9 530.4L423.0 525.8L422.7 524.8L422.0 523.9L420.3 523.1L416.6 522.1L415.5 521.6L414.7 520.4L414.4 518.6L414.2 516.0L414.2 458.3L413.5 455.9L413.4 448.3L412.8 447.9L411.9 447.7L393.9 447.7L393.0 448.0ZM411.7 489.5L394.3 489.5L394.3 450.2L411.7 450.2ZM237.0 456.5L240.6 457.7L241.6 458.2L242.1 458.8L242.4 460.2L242.5 519.3L242.2 520.9L241.6 521.9L240.6 522.4L236.7 523.7L235.7 524.6L235.3 525.8L235.4 530.7L236.1 531.8L237.4 532.3L261.9 532.2L262.6 531.9L262.7 524.0L263.0 522.5L263.6 521.4L263.6 499.8L262.9 498.4L262.7 496.9L262.7 482.5L262.9 481.1L263.6 479.4L263.6 458.4L262.9 456.9L262.7 455.6L262.6 448.2L261.2 447.7L236.9 447.8L236.0 448.4L235.4 449.3L235.3 454.2L235.5 455.1L235.8 455.7ZM261.1 450.2L261.1 489.5L245.0 489.5L245.0 460.8L244.8 459.2L244.0 457.2L243.2 456.2L241.5 455.3L237.8 454.1L237.8 450.2ZM305.2 521.6L300.6 524.1L300.1 524.5L299.9 525.1L299.7 526.1L299.8 531.2L300.8 532.1L301.7 532.3L324.6 532.3L325.9 531.9L326.8 530.9L326.9 530.0L326.9 526.0L326.5 524.8L324.7 523.6L319.8 521.7L319.1 521.0L318.9 520.0L319.4 517.0L322.0 508.2L321.8 507.0L321.9 505.7L323.7 499.2L324.4 497.8L325.5 496.6L329.8 482.2L329.5 479.0L326.4 469.3L326.0 468.4L325.0 467.3L323.7 467.7L323.2 468.1L322.8 468.9L307.6 517.9L306.1 520.6ZM319.0 489.5L325.0 470.3L327.9 479.6L325.0 489.5ZM325.4 499.2L323.5 505.9L323.5 507.5L323.6 507.8L323.9 508.1L325.0 508.3L336.8 508.3L338.1 507.9L338.3 506.3L338.1 505.3L336.0 499.1L335.0 497.8L326.6 497.7ZM183.0 528.9L190.5 531.8L193.8 532.7L198.8 533.4L200.1 533.1L200.6 532.8L200.7 530.8L200.5 522.2L199.6 521.7L197.8 521.4L195.0 520.6L192.6 519.4L190.5 517.6L189.1 516.0L187.6 513.8L186.0 510.6L182.7 503.0L181.1 500.5L179.8 499.2L178.9 498.5L178.0 498.2L174.1 498.2L173.2 498.4L172.2 499.2L171.8 500.5L171.8 529.9L172.0 530.8L172.6 531.7L173.7 532.2L179.6 532.2L180.5 532.1L181.2 531.6L182.3 529.7ZM298.2 531.2L298.2 526.0L298.5 524.3L298.5 501.9L298.0 500.6L297.3 500.0L296.6 499.8L292.1 499.9L291.3 500.3L290.0 501.6L289.2 502.8L288.4 504.5L285.9 511.7L284.4 515.3L282.7 517.8L281.0 519.4L278.1 521.1L275.3 522.0L272.0 522.3L265.0 522.2L264.5 523.1L264.3 524.1L264.2 531.8L265.3 532.3L296.4 532.3L297.5 531.9ZM415.0 448.4L415.1 455.8L415.7 457.8L418.8 458.4L420.7 459.2L422.3 460.3L423.5 461.7L425.0 464.7L427.6 473.2L428.6 475.2L429.7 476.8L431.0 478.1L431.9 478.5L435.9 478.6L437.2 478.1L437.7 477.4L438.0 476.3L438.0 458.2L436.0 455.4L435.7 454.5L435.7 449.5L436.7 447.1L435.7 446.9L428.0 447.7L416.2 447.7ZM428.1 450.2L435.5 449.4L435.5 476.1L432.5 476.1L431.1 474.5L429.6 471.5L426.9 462.8L425.9 460.8L424.8 459.3L423.0 457.7L421.9 457.0L419.5 456.0L416.9 455.5L416.9 450.2ZM626.1 460.3L627.7 462.2L629.6 465.2L634.5 476.5L636.6 480.5L637.3 481.1L638.4 481.3L642.8 481.3L644.0 480.8L644.7 479.9L644.9 479.0L644.9 450.0L644.7 449.1L644.3 448.5L643.7 448.0L642.8 447.7L636.9 447.7L636.0 448.1L635.5 448.6L634.4 450.8L628.9 448.0L626.0 446.9L621.3 446.0L620.4 446.1L619.8 446.4L619.4 446.8L619.4 457.0L620.3 457.6L623.6 458.6ZM621.3 448.5L627.0 449.9L633.4 453.0L634.6 453.4L635.4 453.3L636.0 452.8L637.5 450.2L642.4 450.2L642.4 478.8L638.5 478.8L636.7 475.5L632.1 464.7L629.7 460.6L627.8 458.5L625.8 456.9L623.6 455.8L621.3 455.3ZM556.3 521.9L551.7 523.6L550.1 524.5L549.5 525.2L549.1 526.2L549.1 530.2L549.5 531.3L550.1 531.9L551.4 532.3L583.7 532.3L585.0 531.9L585.6 531.3L585.9 530.7L586.0 525.8L585.6 524.6L584.6 523.7L582.3 523.2L580.7 522.2L579.2 520.4L577.7 517.3L553.9 450.7L553.0 448.7L551.5 446.6L551.0 446.2L550.1 446.0L547.6 446.1L544.3 446.6L537.7 447.9L532.7 449.4L531.3 450.1L530.5 450.8L530.2 451.6L529.9 453.4L529.4 459.6L529.5 460.3L530.0 461.3L530.7 461.8L537.1 464.0L537.9 466.2L539.2 467.9L542.8 478.3L543.1 480.1L543.2 481.6L548.3 496.6L549.0 497.4L549.8 498.6L551.9 504.9L552.1 506.3L552.1 507.6L556.1 519.6L556.6 521.4ZM539.1 462.1L531.9 459.5L532.7 452.2L536.7 450.7L540.3 449.8L547.1 448.7L549.8 448.5L550.8 450.0L551.6 451.5L565.1 489.5L548.5 489.5ZM612.8 459.3L614.6 458.3L617.1 457.6L617.8 457.2L617.9 448.5L617.8 446.5L616.9 446.0L614.3 446.0L610.5 446.4L606.9 447.3L603.5 448.6L600.3 450.2L597.2 452.2L594.3 454.5L591.7 457.2L588.1 461.8L586.0 465.3L584.2 469.1L582.8 473.0L581.7 477.0L580.9 481.2L580.5 485.6L580.3 490.0L580.4 494.4L580.9 498.7L581.6 502.7L582.7 506.6L584.0 510.3L585.7 513.8L587.6 517.1L589.9 520.3L592.4 523.2L595.2 525.7L598.2 527.9L601.6 529.8L605.0 531.3L608.6 532.4L612.4 533.1L616.3 533.4L617.2 533.2L617.9 532.8L617.9 522.3L617.3 521.9L614.3 520.7L612.1 519.0L610.1 516.4L608.4 512.9L607.0 508.4L606.0 503.0L605.4 496.6L605.2 489.3L605.3 484.1L605.7 477.8L606.4 472.0L607.3 468.3L608.4 465.2L609.7 462.7L611.1 460.7ZM602.8 484.0L602.7 489.5L582.8 489.5L582.9 485.7L583.4 481.5L584.1 477.4L585.2 473.6L586.5 470.0L588.2 466.6L590.1 463.3L593.5 458.9L597.2 455.3L601.5 452.4L606.1 450.2L611.0 448.9L616.1 448.5L616.1 455.3L613.6 456.0L611.3 457.2L609.3 459.0L607.5 461.4L606.1 464.3L604.9 467.6L604.0 471.6L603.2 477.6ZM733.7 456.5L737.4 457.7L738.5 458.2L739.0 458.8L739.3 460.2L739.4 519.3L739.2 520.9L738.5 521.8L737.4 522.4L733.4 523.7L732.4 524.6L732.6 531.5L733.4 532.1L734.3 532.3L759.3 532.2L760.2 531.7L760.2 524.4L760.4 523.0L761.0 521.6L761.0 499.7L760.4 498.3L760.2 496.9L760.2 485.4L760.2 481.6L761.0 479.4L761.0 458.3L760.4 456.8L760.2 455.4L760.1 448.2L759.6 447.9L758.7 447.7L733.6 447.8L732.7 448.4L732.1 449.3L732.0 454.2L732.1 454.9L732.5 455.7ZM758.5 450.2L758.5 489.5L741.9 489.5L741.9 460.8L741.7 459.2L740.9 457.2L740.0 456.2L738.3 455.3L734.5 454.1L734.5 450.2ZM442.7 458.5L443.2 459.3L443.5 460.9L443.4 519.9L443.1 521.1L442.5 521.8L441.1 522.3L436.5 523.7L435.4 524.5L435.0 525.8L435.0 530.0L435.2 530.9L436.0 531.9L437.3 532.3L473.8 532.3L474.7 532.1L475.6 531.5L476.1 530.4L476.1 525.8L475.9 524.7L475.4 524.2L474.7 523.7L470.0 522.3L468.6 521.8L468.0 521.1L467.6 519.9L467.6 497.2L467.1 494.4L467.2 486.0L467.6 484.2L467.6 457.8L467.2 456.0L467.1 448.5L466.2 447.9L465.3 447.7L438.2 447.7L437.3 449.8L437.4 454.7L439.3 457.3L441.4 457.8ZM465.1 489.5L446.0 489.5L446.0 460.8L445.8 459.1L445.3 457.7L443.8 456.2L441.9 455.3L437.5 454.1L437.5 450.2L465.1 450.2ZM697.3 522.2L693.6 523.9L693.0 524.4L692.6 525.2L692.5 530.4L693.0 531.5L694.1 532.2L729.1 532.3L730.2 532.0L731.0 531.3L730.8 524.7L726.0 521.8L724.1 520.1L722.1 517.7L719.9 514.6L697.5 478.8L716.0 460.2L717.6 459.1L718.9 458.5L724.0 456.9L726.0 455.6L726.6 454.3L726.6 449.8L726.2 448.7L725.2 447.9L724.3 447.7L696.6 447.7L695.3 448.1L694.6 448.7L694.3 449.8L694.3 454.2L694.5 455.3L695.0 455.9L695.8 456.4L701.0 458.0L701.2 458.2L701.2 458.8L700.6 459.8L699.0 461.5L681.1 479.7L680.6 481.8L680.6 490.3L681.3 493.1L697.2 518.9L697.8 520.2L698.2 521.6ZM700.8 463.3L702.6 461.3L703.3 460.1L703.7 458.7L703.6 457.4L703.1 456.5L701.9 455.7L696.8 454.1L696.8 450.2L724.1 450.2L724.1 454.0L722.7 454.8L717.9 456.2L715.7 457.3L714.4 458.3L694.4 478.3L701.3 489.5L682.4 489.5L682.4 481.8ZM681.8 457.6L683.7 457.0L685.5 456.3L686.2 455.7L686.6 454.9L686.6 449.6L686.2 448.5L685.1 447.8L652.0 447.7L650.7 448.1L649.9 449.1L649.7 450.0L649.7 454.2L650.0 455.3L650.6 456.0L651.7 456.7L655.7 457.9L656.5 458.3L657.1 459.8L657.4 463.1L657.3 518.8L657.0 520.8L656.4 521.9L652.0 523.2L650.5 524.1L650.0 524.8L649.7 525.8L649.7 530.4L650.2 531.5L651.1 532.1L652.0 532.3L684.2 532.3L685.4 531.9L686.3 530.9L686.5 530.0L686.5 525.8L686.1 524.6L685.5 523.9L684.7 523.5L681.7 522.4L680.6 521.9L680.1 521.2L679.8 519.9L679.8 493.6L679.0 490.3L679.0 481.8L679.2 480.5L679.8 478.8L679.8 459.4L679.9 458.7L680.3 458.2ZM659.9 463.1L659.5 459.2L658.9 457.4L657.9 456.2L657.3 455.8L653.4 454.7L652.2 454.1L652.2 450.2L684.2 450.2L684.2 454.1L679.1 456.0L677.9 457.3L677.4 458.5L677.3 459.9L677.3 489.5L659.9 489.5ZM503.4 483.2L505.4 480.3L506.7 477.1L507.5 473.8L507.7 470.5L507.6 468.1L507.2 465.5L505.9 461.5L504.7 459.3L502.0 455.9L500.3 454.3L498.2 452.8L495.6 451.3L493.1 450.2L487.6 448.6L484.3 448.1L477.6 447.7L470.4 447.7L469.5 448.0L469.0 448.4L468.7 448.7L468.7 455.4L469.1 457.2L470.2 457.7L473.6 458.1L476.1 458.7L477.9 459.6L479.2 460.7L480.3 462.3L481.2 464.6L481.7 467.7L481.9 471.6L481.7 474.9L481.1 477.6L480.2 479.7L479.0 481.3L477.7 482.3L475.8 483.2L473.4 483.8L470.1 484.3L469.1 484.8L468.7 486.6L468.7 494.4L468.9 496.1L469.1 496.6L470.8 498.1L472.3 499.9L474.2 503.6L475.6 507.5L478.9 518.3L480.7 522.9L482.1 525.5L483.5 527.4L485.2 529.2L487.2 530.7L489.6 532.0L492.2 532.9L494.8 533.3L497.2 533.5L500.5 533.3L503.0 532.9L505.6 532.2L508.3 531.1L508.6 530.9L511.0 525.5L513.9 523.0L514.6 522.3L515.4 520.6L516.0 518.9L515.8 517.5L515.2 516.7L514.2 516.2L512.6 516.0L511.3 516.3L510.0 517.0L507.3 520.1L506.8 519.9L506.0 519.2L505.0 517.9L503.6 515.2L499.2 504.2L496.8 499.3L494.7 496.2L493.3 494.7L490.7 492.3L489.1 491.1L494.9 489.2L498.2 487.6L501.1 485.5ZM470.8 486.7L473.9 486.3L476.7 485.5L479.0 484.4L480.8 483.1L482.4 481.0L483.5 478.3L484.2 475.2L484.4 471.6L484.2 467.5L483.6 464.0L483.1 462.5L481.9 460.0L480.3 458.2L478.2 456.9L475.5 455.9L470.8 455.3L470.8 450.2L480.9 450.3L484.1 450.6L489.7 451.7L492.3 452.5L494.6 453.6L496.7 454.8L500.2 457.6L502.6 460.7L504.3 464.2L505.1 468.2L505.2 470.4L505.0 473.6L504.3 476.5L503.2 479.1L501.6 481.5L499.5 483.6L497.0 485.4L494.0 486.9L489.4 488.5L484.3 489.5L470.8 489.5ZM518.6 516.9L516.3 522.6L515.6 523.7L512.4 526.4L512.1 526.9L510.1 531.5L510.8 532.0L511.9 532.3L536.1 532.3L537.4 531.9L538.1 531.1L538.4 530.2L538.4 526.2L538.3 525.3L537.9 524.7L537.4 524.3L536.1 523.6L530.9 521.7L530.1 521.0L529.9 520.0L530.5 517.1L533.3 507.9L533.2 506.6L533.4 505.3L535.1 499.4L535.7 498.1L536.9 496.7L541.6 481.6L541.5 480.3L541.2 478.7L537.9 469.1L537.5 468.2L536.8 467.3L535.9 467.4L535.3 467.6L534.7 468.1L534.3 468.9ZM536.5 470.2L539.6 479.6L536.5 489.5L530.2 489.5ZM537.0 499.0L534.9 506.2L534.9 507.7L535.4 508.1L536.5 508.3L548.9 508.3L549.8 508.1L550.4 507.8L550.5 506.4L550.4 505.4L548.3 499.2L547.2 497.8L538.0 497.8ZM624.5 533.2L628.9 532.2L632.9 530.5L635.8 528.6L638.3 526.3L640.8 523.2L642.8 520.0L644.2 516.7L645.6 512.5L646.4 508.2L647.0 503.4L646.8 502.3L646.0 501.5L639.0 498.9L637.9 498.9L637.1 499.3L636.5 499.9L636.2 500.8L635.5 506.7L634.3 511.3L633.5 513.3L631.6 516.5L629.6 518.7L627.6 520.1L625.2 521.0L624.0 521.3L620.6 521.7L619.5 522.3L619.5 532.7L620.0 533.1L620.8 533.4ZM773.2 458.5L774.9 459.2L776.4 460.2L777.6 461.3L779.0 463.0L780.9 466.6L784.4 475.0L785.4 476.6L786.6 478.1L787.9 478.7L791.8 478.7L792.6 478.5L793.4 478.0L793.9 477.3L794.1 476.4L794.1 449.2L793.9 448.3L793.4 447.5L792.6 447.0L791.7 446.9L788.5 447.2L782.6 447.6L763.3 447.7L762.4 447.9L761.7 448.3L761.8 455.3L761.9 456.3L762.5 457.7L763.3 457.9L770.0 457.8ZM768.4 455.2L763.5 455.4L763.5 450.2L782.7 450.1L786.9 449.9L791.6 449.4L791.6 476.2L788.2 476.2L787.7 475.6L786.4 473.4L783.4 466.1L781.7 462.6L779.8 460.0L777.9 458.2L774.8 456.4L771.8 455.5ZM781.9 498.6L782.5 497.7L782.7 496.8L782.7 482.4L782.5 481.5L782.1 480.7L781.3 480.2L780.4 480.1L763.3 480.1L762.4 480.3L761.9 481.4L761.8 483.0L761.8 496.8L761.9 497.8L762.3 498.9L763.3 499.1L780.4 499.1L781.3 498.9ZM780.2 482.6L780.2 489.5L763.5 489.5L763.5 482.6ZM797.1 449.3L797.0 454.2L797.4 455.5L798.4 456.3L802.5 457.7L803.6 458.2L804.3 459.2L804.5 460.9L804.4 519.9L804.1 521.2L803.6 521.8L802.5 522.4L798.4 523.7L798.1 524.5L797.8 526.1L797.9 531.8L798.6 532.2L799.3 532.3L831.5 532.3L832.4 532.1L833.3 531.5L833.8 530.4L833.8 525.8L833.6 524.8L833.0 524.1L832.4 523.7L828.3 522.4L827.2 521.8L826.7 521.2L826.3 519.9L826.3 497.8L825.7 496.0L825.5 494.0L825.6 486.1L825.8 484.8L826.3 483.7L826.3 458.2L825.8 457.0L825.5 455.7L825.5 448.3L824.9 447.9L824.0 447.7L799.3 447.7L798.4 447.9L797.8 448.2ZM823.8 489.5L807.0 489.5L807.0 460.8L806.8 459.2L806.0 457.2L805.1 456.2L803.4 455.3L799.5 454.1L799.5 450.2L823.8 450.2ZM908.6 449.3L908.5 454.2L908.9 455.5L910.0 456.4L914.6 457.7L916.0 458.3L916.7 459.3L917.0 460.9L916.9 519.9L916.6 521.1L916.0 521.8L914.6 522.3L910.0 523.7L908.9 524.5L908.5 525.8L908.5 530.2L908.8 531.1L909.5 531.9L910.8 532.3L947.3 532.3L948.4 532.0L949.2 531.3L949.6 530.2L949.6 525.8L949.3 524.7L948.7 524.0L948.1 523.7L943.4 522.3L942.1 521.8L941.5 521.1L941.1 519.9L941.1 497.2L940.6 494.4L940.6 486.0L941.1 484.2L941.1 457.8L940.6 456.0L940.5 448.5L939.7 447.9L938.8 447.7L910.8 447.7L909.9 447.9L909.3 448.2ZM938.6 489.5L919.5 489.5L919.5 460.8L919.3 459.1L918.8 457.7L917.3 456.2L915.4 455.3L911.0 454.1L911.0 450.2L938.6 450.2ZM1030.9 522.2L1030.9 532.8L1031.5 533.2L1032.4 533.4L1035.8 532.9L1040.9 531.5L1043.3 530.5L1045.5 529.4L1047.5 528.0L1049.2 526.4L1050.8 524.6L1052.0 522.8L1053.2 520.5L1054.1 518.3L1055.3 513.6L1055.9 508.0L1056.0 460.0L1056.4 458.7L1057.0 457.9L1061.8 456.4L1062.8 455.8L1063.4 455.1L1063.7 454.0L1063.7 449.6L1063.2 448.5L1062.3 447.9L1061.4 447.7L1038.2 447.7L1036.9 448.1L1036.0 449.1L1035.9 450.0L1035.9 454.2L1036.3 455.4L1037.0 456.0L1038.0 456.4L1041.6 457.5L1043.0 458.2L1043.7 458.9L1044.1 460.4L1044.1 505.7L1044.0 509.8L1043.1 514.5L1042.2 516.8L1041.0 518.4L1039.4 519.7L1037.0 520.8L1034.1 521.4L1032.0 521.7L1031.2 522.0ZM1046.6 460.2L1045.9 457.8L1045.5 457.1L1044.4 456.1L1042.8 455.3L1038.4 453.9L1038.4 450.2L1061.2 450.2L1061.2 453.9L1059.8 454.4L1056.9 455.3L1055.6 455.9L1054.2 457.4L1053.7 458.9L1053.5 460.6L1053.5 489.5L1046.6 489.5ZM1029.3 532.8L1029.3 522.2L1028.4 521.7L1025.7 521.3L1023.2 520.5L1021.4 519.4L1020.3 518.5L1019.4 517.3L1018.6 515.9L1018.0 514.2L1017.2 510.0L1017.1 459.6L1017.4 458.4L1018.0 457.9L1019.1 457.4L1023.2 456.3L1024.0 455.9L1024.7 455.3L1025.1 454.0L1025.0 449.8L1024.8 448.9L1023.8 448.0L1022.8 447.7L989.0 447.7L987.9 448.0L987.1 448.7L986.7 449.8L986.7 454.0L987.0 455.1L987.5 455.7L988.6 456.4L993.4 458.1L994.0 458.8L994.4 460.0L994.4 511.2L994.7 513.9L995.2 516.5L996.5 520.3L998.3 523.3L1001.0 526.3L1004.1 528.5L1007.7 530.3L1011.7 531.6L1016.7 532.7L1022.0 533.2L1027.9 533.4L1028.6 533.3ZM996.9 459.7L996.2 457.5L995.3 456.4L993.8 455.5L990.6 454.6L989.2 453.9L989.2 450.2L1022.6 450.2L1022.6 453.9L1018.1 455.1L1016.6 455.8L1015.3 457.2L1014.8 458.6L1014.6 460.2L1014.6 489.5L996.9 489.5ZM857.9 483.1L859.6 480.2L860.8 477.0L861.5 473.8L861.7 470.5L861.6 468.1L860.8 463.6L860.0 461.3L858.1 457.7L856.6 455.8L853.3 452.8L851.0 451.3L848.7 450.2L843.8 448.6L840.8 448.1L834.9 447.7L828.4 447.7L827.2 448.2L827.1 455.5L827.5 457.1L828.0 457.7L831.2 458.1L833.3 458.7L834.9 459.5L836.0 460.6L837.0 462.2L837.7 464.6L838.2 467.7L838.4 471.6L838.2 474.9L837.7 477.7L836.9 479.8L835.8 481.4L834.7 482.4L833.1 483.2L831.0 483.8L828.2 484.3L827.7 484.4L827.6 484.7L827.1 486.8L827.2 495.6L827.8 497.1L829.8 499.8L831.6 503.5L832.8 507.4L835.7 518.2L837.3 522.9L838.6 525.4L839.7 527.3L841.3 529.1L843.2 530.8L845.4 532.0L847.4 532.8L849.6 533.3L852.4 533.5L855.1 533.3L857.4 532.9L859.7 532.2L861.9 531.2L864.1 529.7L866.0 527.9L867.5 525.9L868.9 523.3L869.0 517.9L868.5 516.9L867.7 516.3L866.0 516.0L864.4 516.3L862.8 517.4L861.0 520.0L860.2 519.3L859.3 518.0L858.0 515.3L854.2 504.3L852.1 499.4L850.2 496.4L849.0 494.8L846.7 492.4L845.1 491.1L850.3 489.2L853.2 487.5L855.9 485.4ZM828.9 486.7L832.9 485.9L835.1 485.0L837.0 483.8L838.5 482.1L839.6 479.7L840.4 476.8L840.8 473.4L840.8 469.4L840.2 464.0L839.3 461.2L838.6 460.0L837.2 458.2L835.4 456.9L833.0 455.9L828.9 455.3L828.9 450.2L837.8 450.3L840.6 450.6L845.6 451.7L847.8 452.5L849.8 453.6L851.7 454.8L854.8 457.6L856.9 460.7L858.4 464.2L859.1 468.2L859.2 470.4L859.0 473.6L858.4 476.5L857.4 479.2L856.0 481.5L854.2 483.6L852.0 485.4L849.3 486.9L846.3 488.2L844.2 488.8L840.7 489.5L828.9 489.5ZM976.8 483.2L978.8 480.3L980.1 477.1L980.9 473.8L981.1 470.5L981.0 468.1L980.6 465.5L979.3 461.5L978.1 459.3L975.5 455.9L973.7 454.3L971.6 452.8L969.1 451.3L966.5 450.2L961.0 448.6L957.7 448.1L951.0 447.7L943.8 447.7L943.0 448.0L942.4 448.4L942.1 448.7L942.2 455.4L942.5 457.2L943.6 457.7L947.0 458.1L949.5 458.7L951.4 459.6L952.7 460.7L953.8 462.3L954.6 464.6L955.2 467.7L955.3 471.6L955.1 474.9L954.6 477.6L953.7 479.7L952.5 481.3L951.2 482.3L949.3 483.2L946.9 483.8L943.6 484.3L942.6 484.8L942.2 486.6L942.2 494.4L942.4 496.1L942.6 496.6L944.3 498.1L945.7 499.9L947.7 503.6L949.1 507.5L952.3 518.3L954.2 522.9L955.6 525.5L956.9 527.4L958.7 529.2L960.7 530.7L963.0 532.0L965.6 532.9L968.2 533.3L970.9 533.5L973.6 533.3L976.7 532.9L979.3 532.1L981.5 531.2L983.7 529.9L985.7 528.2L987.7 526.0L989.1 523.9L989.4 523.2L989.4 518.0L988.9 517.0L988.1 516.3L987.2 516.1L985.8 516.1L984.1 516.5L982.8 517.6L980.7 520.1L980.2 519.9L979.4 519.2L978.4 517.9L977.0 515.2L972.6 504.2L970.2 499.3L968.1 496.3L966.8 494.7L964.2 492.3L962.6 491.1L968.3 489.2L971.6 487.6L974.6 485.5ZM944.2 486.7L948.8 485.9L951.4 485.0L953.4 483.8L955.1 482.1L956.4 479.7L957.3 476.8L957.8 473.4L957.8 469.4L957.6 467.4L957.0 464.0L956.0 461.2L955.3 460.0L953.7 458.2L951.6 456.9L949.0 455.9L944.2 455.3L944.2 450.2L954.4 450.3L957.5 450.6L963.2 451.7L965.7 452.5L968.0 453.6L970.2 454.8L973.6 457.6L974.9 459.1L977.0 462.4L978.2 466.2L978.5 468.2L978.6 470.4L978.4 473.6L977.7 476.5L976.6 479.1L975.0 481.5L972.9 483.6L970.4 485.4L967.5 486.9L962.8 488.5L959.0 489.3L957.7 489.5L944.2 489.5ZM796.3 531.7L796.3 525.4L796.5 524.1L797.0 522.9L797.0 502.1L796.8 501.2L796.5 500.6L795.8 500.0L794.9 499.8L790.5 499.9L789.7 500.3L788.3 501.7L786.7 504.5L784.1 511.7L782.6 515.2L780.8 517.7L779.1 519.4L776.1 521.1L773.1 522.0L769.8 522.3L762.6 522.2L762.1 522.9L761.8 524.0L761.8 531.8L763.0 532.3L794.9 532.3ZM878.9 528.4L880.9 530.4L883.1 531.9L885.7 533.0L888.4 533.5L891.3 533.5L894.1 533.1L896.7 532.1L899.0 530.5L900.9 528.6L902.4 526.3L903.4 523.8L903.9 521.1L903.9 518.1L903.4 515.4L902.4 512.9L900.9 510.6L899.1 508.8L896.9 507.3L894.3 506.2L891.6 505.7L888.7 505.7L885.9 506.1L883.3 507.1L881.0 508.7L879.1 510.6L877.6 512.9L876.6 515.4L876.1 518.1L876.1 520.9L876.5 523.6L877.5 526.1ZM71.6 443.8L54.1 416.9L57.4 448.3L31.7 427.8L45.4 456.8L13.9 444.7L36.7 468.6L2.4 466.1L32.1 482.4L-1.5 489.7L32.1 497.0L2.4 513.3L36.7 510.8L13.9 534.7L45.4 522.6L31.7 551.6L57.4 531.1L54.1 562.5L71.6 535.6L79.0 566.2L86.4 535.6L103.9 562.5L100.6 531.1L126.3 551.6L112.6 522.6L144.1 534.7L121.3 510.8L155.6 513.3L125.9 497.0L159.5 489.7L125.9 482.4L155.6 466.1L121.3 468.6L144.1 444.7L112.6 456.8L126.3 427.8L100.6 448.3L103.9 416.9L86.4 443.8L79.0 413.2ZM36.7 489.7L36.8 487.5L36.9 485.3L37.2 483.1L37.6 481.0L38.1 478.9L38.8 476.8L39.5 474.7L40.4 472.7L41.3 470.7L42.4 468.8L43.5 466.9L44.8 465.1L46.1 463.3L47.6 461.7L49.1 460.1L50.7 458.6L52.4 457.1L54.1 455.8L56.0 454.6L57.9 453.4L59.8 452.4L61.8 451.4L63.8 450.6L65.9 449.9L68.1 449.2L70.2 448.7L72.4 448.3L74.6 448.0L76.8 447.9L79.0 447.8L81.2 447.9L83.4 448.0L85.6 448.3L87.8 448.7L89.9 449.2L92.1 449.9L94.2 450.6L96.2 451.4L98.2 452.4L100.2 453.4L102.0 454.6L103.9 455.8L105.6 457.1L107.3 458.6L108.9 460.1L110.4 461.7L111.9 463.3L113.2 465.1L114.5 466.9L115.6 468.8L116.7 470.7L117.6 472.7L118.5 474.7L119.2 476.8L119.9 478.9L120.4 481.0L120.8 483.1L121.1 485.3L121.2 487.5L121.3 489.7Z" fill="#0570a6" fill-opacity="0.6" fill-rule="evenodd"/></svg>
<div id="pg" class="a txt" style="left:1025.80px;top:534.01px;font-size:9.2px;font-weight:bold;color:#2b3f6e;transform:scaleX(1.0636);">36</div>
</body></html>
